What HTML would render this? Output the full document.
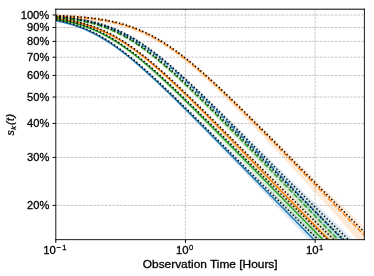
<!DOCTYPE html><html><head><meta charset="utf-8"><style>html,body{margin:0;padding:0;background:#fff}body{width:374px;height:276px;overflow:hidden}</style></head><body><svg width="374" height="276" viewBox="0 0 374 276" style="display:block;font-family:'Liberation Sans',sans-serif;will-change:transform" stroke-linejoin="round"><rect width="374" height="276" fill="#fff"/><defs><clipPath id="c"><rect x="55.80" y="9.30" width="308.60" height="230.35"/></clipPath></defs><g stroke="#b0b0b0" stroke-width="0.71" stroke-dasharray="2.63 1.14" fill="none"><path d="M55.80 15.00H364.40"/><path d="M55.80 27.46H364.40"/><path d="M55.80 41.40H364.40"/><path d="M55.80 57.19H364.40"/><path d="M55.80 75.43H364.40"/><path d="M55.80 97.00H364.40"/><path d="M55.80 123.40H364.40"/><path d="M55.80 157.43H364.40"/><path d="M55.80 205.40H364.40"/><path d="M185.45 9.30V239.65"/><path d="M315.10 9.30V239.65"/></g><g clip-path="url(#c)"><path d="M55.80 19.19 L57.34 19.49 L58.89 19.80 L60.43 20.14 L61.97 20.48 L63.52 20.85 L65.06 21.23 L66.60 21.63 L68.14 22.04 L69.69 22.47 L71.23 22.93 L72.77 23.40 L74.32 23.89 L75.86 24.40 L77.40 24.93 L78.94 25.48 L80.49 26.05 L82.03 26.65 L83.57 27.26 L85.12 27.90 L86.66 28.56 L88.20 29.25 L89.75 29.95 L91.29 30.68 L92.83 31.43 L94.38 32.21 L95.92 33.00 L97.46 33.82 L99.00 34.67 L100.55 35.53 L102.09 36.42 L103.63 37.33 L105.18 38.26 L106.72 39.22 L108.26 40.19 L109.80 41.19 L111.35 42.21 L112.89 43.24 L114.43 44.30 L115.98 45.38 L117.52 46.48 L119.06 47.59 L120.61 48.73 L122.15 49.88 L123.69 51.05 L125.23 52.23 L126.78 53.44 L128.32 54.65 L129.86 55.89 L131.41 57.13 L132.95 58.40 L134.49 59.67 L136.04 60.96 L137.58 62.26 L139.12 63.57 L140.66 64.90 L142.21 66.23 L143.75 67.58 L145.29 68.93 L146.84 70.30 L148.38 71.67 L149.92 73.06 L151.47 74.45 L153.01 75.85 L154.55 77.26 L156.09 78.67 L157.64 80.09 L159.18 81.52 L160.72 82.96 L162.27 84.40 L163.81 85.84 L165.35 87.29 L166.90 88.75 L168.44 90.21 L169.98 91.67 L171.52 93.14 L173.07 94.62 L174.61 96.09 L176.15 97.57 L177.70 99.06 L179.24 100.54 L180.78 102.03 L182.33 103.52 L183.87 105.02 L185.41 106.51 L186.95 108.01 L188.50 109.51 L190.04 111.02 L191.58 112.52 L193.13 114.03 L194.67 115.53 L196.21 117.04 L197.76 118.55 L199.30 120.06 L200.84 121.58 L202.38 123.09 L203.93 124.61 L205.47 126.12 L207.01 127.64 L208.56 129.15 L210.10 130.67 L211.64 132.19 L213.19 133.71 L214.73 135.22 L216.27 136.74 L217.81 138.26 L219.36 139.78 L220.90 141.30 L222.44 142.82 L223.99 144.34 L225.53 145.86 L227.07 147.38 L228.62 148.90 L230.16 150.42 L231.70 151.94 L233.25 153.46 L234.79 154.98 L236.33 156.50 L237.87 158.01 L239.42 159.53 L240.96 161.05 L242.50 162.57 L244.05 164.08 L245.59 165.60 L247.13 167.12 L248.68 168.63 L250.22 170.15 L251.76 171.66 L253.30 173.18 L254.85 174.69 L256.39 176.20 L257.93 177.71 L259.48 179.23 L261.02 180.74 L262.56 182.25 L264.10 183.76 L265.65 185.27 L267.19 186.77 L268.73 188.28 L270.28 189.79 L271.82 191.29 L273.36 192.80 L274.91 194.30 L276.45 195.81 L277.99 197.31 L279.53 198.81 L281.08 200.31 L282.62 201.81 L284.16 203.31 L285.71 204.81 L287.25 206.31 L288.79 207.80 L290.34 209.30 L291.88 210.79 L293.42 212.28 L294.96 213.78 L296.51 215.27 L298.05 216.76 L299.59 218.25 L301.14 219.73 L302.68 221.22 L304.22 222.71 L305.77 224.19 L307.31 225.68 L308.85 227.16 L310.39 228.64 L311.94 230.12 L313.48 231.60 L315.02 233.08 L316.57 234.55 L318.11 236.03 L319.65 237.50 L321.20 238.97 L322.74 240.44 L324.28 241.91 L325.82 243.38 L327.37 244.85 L328.91 246.32 L330.45 247.78 L332.00 249.24 L333.54 250.71 L335.08 252.17 L336.63 253.63 L338.17 255.08 L339.71 256.54 L341.25 257.99 L342.80 259.45 L344.34 260.90 L345.88 262.35 L347.43 263.80 L348.97 265.24 L350.51 266.69 L352.06 268.13 L353.60 269.57 L355.14 271.01 L356.69 272.45 L358.23 273.89 L359.77 275.33 L361.31 276.76 L362.86 278.19 L364.40 279.62 L364.40 300.83 L362.86 299.12 L361.31 297.42 L359.77 295.71 L358.23 294.01 L356.69 292.31 L355.14 290.61 L353.60 288.91 L352.06 287.22 L350.51 285.52 L348.97 283.83 L347.43 282.14 L345.88 280.45 L344.34 278.77 L342.80 277.08 L341.25 275.40 L339.71 273.72 L338.17 272.04 L336.63 270.36 L335.08 268.68 L333.54 267.00 L332.00 265.33 L330.45 263.65 L328.91 261.98 L327.37 260.31 L325.82 258.64 L324.28 256.97 L322.74 255.31 L321.20 253.64 L319.65 251.98 L318.11 250.31 L316.57 248.65 L315.02 246.99 L313.48 245.33 L311.94 243.67 L310.39 242.02 L308.85 240.36 L307.31 238.71 L305.77 237.05 L304.22 235.40 L302.68 233.75 L301.14 232.10 L299.59 230.45 L298.05 228.80 L296.51 227.15 L294.96 225.51 L293.42 223.86 L291.88 222.22 L290.34 220.58 L288.79 218.93 L287.25 217.29 L285.71 215.65 L284.16 214.01 L282.62 212.38 L281.08 210.74 L279.53 209.10 L277.99 207.47 L276.45 205.83 L274.91 204.20 L273.36 202.57 L271.82 200.94 L270.28 199.30 L268.73 197.68 L267.19 196.05 L265.65 194.42 L264.10 192.79 L262.56 191.16 L261.02 189.54 L259.48 187.91 L257.93 186.29 L256.39 184.67 L254.85 183.05 L253.30 181.42 L251.76 179.80 L250.22 178.19 L248.68 176.57 L247.13 174.95 L245.59 173.33 L244.05 171.72 L242.50 170.10 L240.96 168.49 L239.42 166.88 L237.87 165.26 L236.33 163.65 L234.79 162.04 L233.25 160.43 L231.70 158.83 L230.16 157.22 L228.62 155.61 L227.07 154.01 L225.53 152.40 L223.99 150.80 L222.44 149.20 L220.90 147.60 L219.36 146.00 L217.81 144.40 L216.27 142.81 L214.73 141.21 L213.19 139.62 L211.64 138.03 L210.10 136.44 L208.56 134.85 L207.01 133.26 L205.47 131.67 L203.93 130.09 L202.38 128.51 L200.84 126.93 L199.30 125.35 L197.76 123.77 L196.21 122.20 L194.67 120.63 L193.13 119.06 L191.58 117.49 L190.04 115.92 L188.50 114.36 L186.95 112.80 L185.41 111.25 L183.87 109.69 L182.33 108.14 L180.78 106.60 L179.24 105.05 L177.70 103.51 L176.15 101.98 L174.61 100.45 L173.07 98.92 L171.52 97.40 L169.98 95.88 L168.44 94.37 L166.90 92.86 L165.35 91.36 L163.81 89.86 L162.27 88.37 L160.72 86.88 L159.18 85.41 L157.64 83.94 L156.09 82.47 L154.55 81.02 L153.01 79.57 L151.47 78.13 L149.92 76.70 L148.38 75.28 L146.84 73.86 L145.29 72.46 L143.75 71.07 L142.21 69.69 L140.66 68.32 L139.12 66.96 L137.58 65.61 L136.04 64.28 L134.49 62.96 L132.95 61.66 L131.41 60.36 L129.86 59.09 L128.32 57.83 L126.78 56.58 L125.23 55.35 L123.69 54.14 L122.15 52.94 L120.61 51.77 L119.06 50.61 L117.52 49.47 L115.98 48.35 L114.43 47.25 L112.89 46.17 L111.35 45.11 L109.80 44.07 L108.26 43.05 L106.72 42.06 L105.18 41.08 L103.63 40.13 L102.09 39.20 L100.55 38.30 L99.00 37.42 L97.46 36.56 L95.92 35.72 L94.38 34.91 L92.83 34.12 L91.29 33.36 L89.75 32.62 L88.20 31.90 L86.66 31.20 L85.12 30.53 L83.57 29.88 L82.03 29.25 L80.49 28.65 L78.94 28.07 L77.40 27.50 L75.86 26.96 L74.32 26.45 L72.77 25.95 L71.23 25.47 L69.69 25.01 L68.14 24.57 L66.60 24.14 L65.06 23.74 L63.52 23.35 L61.97 22.98 L60.43 22.63 L58.89 22.29 L57.34 21.97 L55.80 21.67Z" fill="#1f77b4" fill-opacity="0.165" stroke="none"/><path d="M55.80 15.36 L57.34 15.48 L58.89 15.60 L60.43 15.73 L61.97 15.87 L63.52 16.02 L65.06 16.17 L66.60 16.33 L68.14 16.50 L69.69 16.68 L71.23 16.87 L72.77 17.06 L74.32 17.27 L75.86 17.49 L77.40 17.72 L78.94 17.96 L80.49 18.21 L82.03 18.47 L83.57 18.75 L85.12 19.04 L86.66 19.34 L88.20 19.66 L89.75 19.99 L91.29 20.34 L92.83 20.70 L94.38 21.08 L95.92 21.47 L97.46 21.89 L99.00 22.32 L100.55 22.76 L102.09 23.23 L103.63 23.71 L105.18 24.22 L106.72 24.74 L108.26 25.29 L109.80 25.85 L111.35 26.43 L112.89 27.04 L114.43 27.67 L115.98 28.31 L117.52 28.98 L119.06 29.68 L120.61 30.39 L122.15 31.13 L123.69 31.88 L125.23 32.66 L126.78 33.47 L128.32 34.29 L129.86 35.14 L131.41 36.00 L132.95 36.89 L134.49 37.81 L136.04 38.74 L137.58 39.69 L139.12 40.67 L140.66 41.66 L142.21 42.68 L143.75 43.72 L145.29 44.77 L146.84 45.85 L148.38 46.94 L149.92 48.05 L151.47 49.18 L153.01 50.33 L154.55 51.49 L156.09 52.67 L157.64 53.87 L159.18 55.08 L160.72 56.31 L162.27 57.55 L163.81 58.80 L165.35 60.07 L166.90 61.35 L168.44 62.65 L169.98 63.95 L171.52 65.27 L173.07 66.60 L174.61 67.94 L176.15 69.29 L177.70 70.65 L179.24 72.02 L180.78 73.39 L182.33 74.78 L183.87 76.17 L185.41 77.57 L186.95 78.98 L188.50 80.40 L190.04 81.82 L191.58 83.25 L193.13 84.69 L194.67 86.13 L196.21 87.57 L197.76 89.02 L199.30 90.48 L200.84 91.94 L202.38 93.40 L203.93 94.87 L205.47 96.34 L207.01 97.82 L208.56 99.30 L210.10 100.78 L211.64 102.26 L213.19 103.75 L214.73 105.24 L216.27 106.73 L217.81 108.23 L219.36 109.73 L220.90 111.23 L222.44 112.73 L223.99 114.23 L225.53 115.73 L227.07 117.24 L228.62 118.74 L230.16 120.25 L231.70 121.76 L233.25 123.27 L234.79 124.78 L236.33 126.29 L237.87 127.81 L239.42 129.32 L240.96 130.83 L242.50 132.35 L244.05 133.86 L245.59 135.37 L247.13 136.89 L248.68 138.40 L250.22 139.92 L251.76 141.43 L253.30 142.95 L254.85 144.46 L256.39 145.98 L257.93 147.49 L259.48 149.01 L261.02 150.52 L262.56 152.03 L264.10 153.55 L265.65 155.06 L267.19 156.57 L268.73 158.09 L270.28 159.60 L271.82 161.11 L273.36 162.62 L274.91 164.13 L276.45 165.64 L277.99 167.15 L279.53 168.65 L281.08 170.16 L282.62 171.67 L284.16 173.17 L285.71 174.68 L287.25 176.18 L288.79 177.69 L290.34 179.19 L291.88 180.69 L293.42 182.19 L294.96 183.69 L296.51 185.19 L298.05 186.68 L299.59 188.18 L301.14 189.68 L302.68 191.17 L304.22 192.66 L305.77 194.16 L307.31 195.65 L308.85 197.14 L310.39 198.62 L311.94 200.11 L313.48 201.60 L315.02 203.08 L316.57 204.57 L318.11 206.05 L319.65 207.53 L321.20 209.01 L322.74 210.49 L324.28 211.97 L325.82 213.44 L327.37 214.92 L328.91 216.39 L330.45 217.86 L332.00 219.33 L333.54 220.80 L335.08 222.27 L336.63 223.73 L338.17 225.19 L339.71 226.66 L341.25 228.12 L342.80 229.58 L344.34 231.03 L345.88 232.49 L347.43 233.95 L348.97 235.40 L350.51 236.85 L352.06 238.30 L353.60 239.75 L355.14 241.19 L356.69 242.64 L358.23 244.08 L359.77 245.52 L361.31 246.96 L362.86 248.39 L364.40 249.83 L364.40 272.16 L362.86 270.43 L361.31 268.70 L359.77 266.98 L358.23 265.25 L356.69 263.53 L355.14 261.81 L353.60 260.09 L352.06 258.38 L350.51 256.66 L348.97 254.95 L347.43 253.24 L345.88 251.53 L344.34 249.82 L342.80 248.12 L341.25 246.41 L339.71 244.71 L338.17 243.01 L336.63 241.31 L335.08 239.61 L333.54 237.92 L332.00 236.22 L330.45 234.53 L328.91 232.84 L327.37 231.15 L325.82 229.46 L324.28 227.78 L322.74 226.09 L321.20 224.41 L319.65 222.72 L318.11 221.04 L316.57 219.36 L315.02 217.68 L313.48 216.01 L311.94 214.33 L310.39 212.66 L308.85 210.98 L307.31 209.31 L305.77 207.64 L304.22 205.97 L302.68 204.30 L301.14 202.64 L299.59 200.97 L298.05 199.31 L296.51 197.64 L294.96 195.98 L293.42 194.32 L291.88 192.66 L290.34 191.00 L288.79 189.34 L287.25 187.69 L285.71 186.03 L284.16 184.38 L282.62 182.73 L281.08 181.08 L279.53 179.43 L277.99 177.78 L276.45 176.13 L274.91 174.48 L273.36 172.84 L271.82 171.19 L270.28 169.55 L268.73 167.91 L267.19 166.27 L265.65 164.63 L264.10 162.99 L262.56 161.36 L261.02 159.72 L259.48 158.09 L257.93 156.46 L256.39 154.83 L254.85 153.20 L253.30 151.57 L251.76 149.94 L250.22 148.32 L248.68 146.70 L247.13 145.07 L245.59 143.45 L244.05 141.84 L242.50 140.22 L240.96 138.60 L239.42 136.99 L237.87 135.38 L236.33 133.77 L234.79 132.16 L233.25 130.56 L231.70 128.96 L230.16 127.36 L228.62 125.76 L227.07 124.16 L225.53 122.57 L223.99 120.98 L222.44 119.39 L220.90 117.81 L219.36 116.23 L217.81 114.65 L216.27 113.08 L214.73 111.50 L213.19 109.94 L211.64 108.37 L210.10 106.81 L208.56 105.26 L207.01 103.71 L205.47 102.16 L203.93 100.62 L202.38 99.08 L200.84 97.55 L199.30 96.02 L197.76 94.50 L196.21 92.98 L194.67 91.47 L193.13 89.97 L191.58 88.47 L190.04 86.98 L188.50 85.50 L186.95 84.03 L185.41 82.56 L183.87 81.10 L182.33 79.65 L180.78 78.21 L179.24 76.78 L177.70 75.36 L176.15 73.95 L174.61 72.55 L173.07 71.16 L171.52 69.79 L169.98 68.42 L168.44 67.07 L166.90 65.73 L165.35 64.40 L163.81 63.09 L162.27 61.80 L160.72 60.51 L159.18 59.25 L157.64 57.99 L156.09 56.76 L154.55 55.54 L153.01 54.34 L151.47 53.16 L149.92 51.99 L148.38 50.85 L146.84 49.72 L145.29 48.62 L143.75 47.53 L142.21 46.46 L140.66 45.42 L139.12 44.39 L137.58 43.39 L136.04 42.41 L134.49 41.45 L132.95 40.51 L131.41 39.60 L129.86 38.71 L128.32 37.84 L126.78 36.99 L125.23 36.17 L123.69 35.37 L122.15 34.59 L120.61 33.83 L119.06 33.10 L117.52 32.39 L115.98 31.71 L114.43 31.04 L112.89 30.40 L111.35 29.78 L109.80 29.18 L108.26 28.60 L106.72 28.04 L105.18 27.51 L103.63 26.99 L102.09 26.49 L100.55 26.02 L99.00 25.56 L97.46 25.12 L95.92 24.70 L94.38 24.29 L92.83 23.90 L91.29 23.53 L89.75 23.18 L88.20 22.84 L86.66 22.51 L85.12 22.20 L83.57 21.91 L82.03 21.62 L80.49 21.35 L78.94 21.10 L77.40 20.85 L75.86 20.62 L74.32 20.40 L72.77 20.18 L71.23 19.98 L69.69 19.79 L68.14 19.61 L66.60 19.43 L65.06 19.27 L63.52 19.11 L61.97 18.96 L60.43 18.82 L58.89 18.69 L57.34 18.56 L55.80 18.44Z" fill="#1f77b4" fill-opacity="0.165" stroke="none"/><path d="M55.80 17.22 L57.34 17.41 L58.89 17.62 L60.43 17.83 L61.97 18.06 L63.52 18.30 L65.06 18.55 L66.60 18.81 L68.14 19.08 L69.69 19.37 L71.23 19.67 L72.77 19.98 L74.32 20.31 L75.86 20.65 L77.40 21.01 L78.94 21.39 L80.49 21.78 L82.03 22.19 L83.57 22.61 L85.12 23.05 L86.66 23.52 L88.20 24.00 L89.75 24.50 L91.29 25.01 L92.83 25.55 L94.38 26.11 L95.92 26.69 L97.46 27.29 L99.00 27.91 L100.55 28.55 L102.09 29.21 L103.63 29.90 L105.18 30.61 L106.72 31.34 L108.26 32.09 L109.80 32.86 L111.35 33.66 L112.89 34.47 L114.43 35.31 L115.98 36.17 L117.52 37.06 L119.06 37.96 L120.61 38.89 L122.15 39.83 L123.69 40.80 L125.23 41.79 L126.78 42.80 L128.32 43.83 L129.86 44.88 L131.41 45.95 L132.95 47.03 L134.49 48.14 L136.04 49.26 L137.58 50.40 L139.12 51.56 L140.66 52.74 L142.21 53.93 L143.75 55.13 L145.29 56.35 L146.84 57.59 L148.38 58.84 L149.92 60.10 L151.47 61.38 L153.01 62.67 L154.55 63.97 L156.09 65.29 L157.64 66.61 L159.18 67.95 L160.72 69.29 L162.27 70.65 L163.81 72.01 L165.35 73.39 L166.90 74.77 L168.44 76.16 L169.98 77.56 L171.52 78.97 L173.07 80.38 L174.61 81.81 L176.15 83.23 L177.70 84.67 L179.24 86.11 L180.78 87.55 L182.33 89.00 L183.87 90.46 L185.41 91.92 L186.95 93.38 L188.50 94.85 L190.04 96.33 L191.58 97.80 L193.13 99.28 L194.67 100.77 L196.21 102.25 L197.76 103.74 L199.30 105.24 L200.84 106.73 L202.38 108.23 L203.93 109.73 L205.47 111.23 L207.01 112.74 L208.56 114.24 L210.10 115.75 L211.64 117.26 L213.19 118.77 L214.73 120.28 L216.27 121.80 L217.81 123.31 L219.36 124.83 L220.90 126.35 L222.44 127.86 L223.99 129.38 L225.53 130.90 L227.07 132.42 L228.62 133.94 L230.16 135.46 L231.70 136.98 L233.25 138.51 L234.79 140.03 L236.33 141.55 L237.87 143.07 L239.42 144.60 L240.96 146.12 L242.50 147.64 L244.05 149.17 L245.59 150.69 L247.13 152.21 L248.68 153.74 L250.22 155.26 L251.76 156.78 L253.30 158.31 L254.85 159.83 L256.39 161.35 L257.93 162.87 L259.48 164.39 L261.02 165.91 L262.56 167.43 L264.10 168.95 L265.65 170.47 L267.19 171.99 L268.73 173.51 L270.28 175.03 L271.82 176.55 L273.36 178.07 L274.91 179.58 L276.45 181.10 L277.99 182.61 L279.53 184.13 L281.08 185.64 L282.62 187.15 L284.16 188.67 L285.71 190.18 L287.25 191.69 L288.79 193.20 L290.34 194.71 L291.88 196.22 L293.42 197.72 L294.96 199.23 L296.51 200.74 L298.05 202.24 L299.59 203.75 L301.14 205.25 L302.68 206.75 L304.22 208.25 L305.77 209.75 L307.31 211.25 L308.85 212.75 L310.39 214.25 L311.94 215.75 L313.48 217.24 L315.02 218.74 L316.57 220.23 L318.11 221.72 L319.65 223.21 L321.20 224.70 L322.74 226.19 L324.28 227.68 L325.82 229.16 L327.37 230.65 L328.91 232.13 L330.45 233.62 L332.00 235.10 L333.54 236.58 L335.08 238.06 L336.63 239.53 L338.17 241.01 L339.71 242.49 L341.25 243.96 L342.80 245.43 L344.34 246.90 L345.88 248.37 L347.43 249.84 L348.97 251.31 L350.51 252.77 L352.06 254.24 L353.60 255.70 L355.14 257.16 L356.69 258.62 L358.23 260.08 L359.77 261.53 L361.31 262.99 L362.86 264.44 L364.40 265.89 L364.40 287.51 L362.86 285.78 L361.31 284.04 L359.77 282.30 L358.23 280.57 L356.69 278.84 L355.14 277.11 L353.60 275.38 L352.06 273.66 L350.51 271.94 L348.97 270.22 L347.43 268.50 L345.88 266.78 L344.34 265.07 L342.80 263.36 L341.25 261.65 L339.71 259.94 L338.17 258.23 L336.63 256.53 L335.08 254.82 L333.54 253.12 L332.00 251.42 L330.45 249.73 L328.91 248.03 L327.37 246.33 L325.82 244.64 L324.28 242.95 L322.74 241.26 L321.20 239.57 L319.65 237.89 L318.11 236.20 L316.57 234.52 L315.02 232.84 L313.48 231.16 L311.94 229.48 L310.39 227.80 L308.85 226.12 L307.31 224.45 L305.77 222.77 L304.22 221.10 L302.68 219.43 L301.14 217.76 L299.59 216.09 L298.05 214.43 L296.51 212.76 L294.96 211.10 L293.42 209.43 L291.88 207.77 L290.34 206.11 L288.79 204.45 L287.25 202.79 L285.71 201.14 L284.16 199.48 L282.62 197.83 L281.08 196.18 L279.53 194.52 L277.99 192.87 L276.45 191.22 L274.91 189.58 L273.36 187.93 L271.82 186.28 L270.28 184.64 L268.73 182.99 L267.19 181.35 L265.65 179.71 L264.10 178.07 L262.56 176.43 L261.02 174.79 L259.48 173.16 L257.93 171.52 L256.39 169.89 L254.85 168.26 L253.30 166.62 L251.76 164.99 L250.22 163.36 L248.68 161.74 L247.13 160.11 L245.59 158.49 L244.05 156.86 L242.50 155.24 L240.96 153.62 L239.42 152.00 L237.87 150.38 L236.33 148.77 L234.79 147.15 L233.25 145.54 L231.70 143.93 L230.16 142.32 L228.62 140.71 L227.07 139.10 L225.53 137.50 L223.99 135.89 L222.44 134.29 L220.90 132.69 L219.36 131.10 L217.81 129.50 L216.27 127.91 L214.73 126.32 L213.19 124.73 L211.64 123.15 L210.10 121.56 L208.56 119.98 L207.01 118.41 L205.47 116.83 L203.93 115.26 L202.38 113.69 L200.84 112.13 L199.30 110.57 L197.76 109.01 L196.21 107.46 L194.67 105.91 L193.13 104.36 L191.58 102.82 L190.04 101.28 L188.50 99.75 L186.95 98.23 L185.41 96.70 L183.87 95.19 L182.33 93.68 L180.78 92.17 L179.24 90.67 L177.70 89.18 L176.15 87.70 L174.61 86.22 L173.07 84.75 L171.52 83.28 L169.98 81.83 L168.44 80.38 L166.90 78.95 L165.35 77.52 L163.81 76.10 L162.27 74.69 L160.72 73.29 L159.18 71.90 L157.64 70.53 L156.09 69.16 L154.55 67.81 L153.01 66.47 L151.47 65.14 L149.92 63.83 L148.38 62.53 L146.84 61.24 L145.29 59.97 L143.75 58.72 L142.21 57.48 L140.66 56.26 L139.12 55.05 L137.58 53.86 L136.04 52.69 L134.49 51.54 L132.95 50.41 L131.41 49.30 L129.86 48.20 L128.32 47.13 L126.78 46.07 L125.23 45.04 L123.69 44.03 L122.15 43.04 L120.61 42.07 L119.06 41.12 L117.52 40.19 L115.98 39.29 L114.43 38.41 L112.89 37.55 L111.35 36.72 L109.80 35.90 L108.26 35.11 L106.72 34.35 L105.18 33.60 L103.63 32.88 L102.09 32.18 L100.55 31.50 L99.00 30.85 L97.46 30.21 L95.92 29.60 L94.38 29.01 L92.83 28.44 L91.29 27.89 L89.75 27.36 L88.20 26.85 L86.66 26.36 L85.12 25.89 L83.57 25.44 L82.03 25.01 L80.49 24.59 L78.94 24.19 L77.40 23.81 L75.86 23.45 L74.32 23.10 L72.77 22.76 L71.23 22.44 L69.69 22.13 L68.14 21.84 L66.60 21.56 L65.06 21.30 L63.52 21.04 L61.97 20.80 L60.43 20.57 L58.89 20.35 L57.34 20.14 L55.80 19.94Z" fill="#ff7f0e" fill-opacity="0.165" stroke="none"/><path d="M55.80 14.04 L57.34 14.10 L58.89 14.16 L60.43 14.23 L61.97 14.30 L63.52 14.37 L65.06 14.45 L66.60 14.53 L68.14 14.62 L69.69 14.71 L71.23 14.80 L72.77 14.90 L74.32 15.01 L75.86 15.12 L77.40 15.23 L78.94 15.35 L80.49 15.48 L82.03 15.62 L83.57 15.76 L85.12 15.90 L86.66 16.06 L88.20 16.22 L89.75 16.39 L91.29 16.57 L92.83 16.76 L94.38 16.96 L95.92 17.16 L97.46 17.38 L99.00 17.60 L100.55 17.84 L102.09 18.09 L103.63 18.34 L105.18 18.61 L106.72 18.90 L108.26 19.19 L109.80 19.50 L111.35 19.82 L112.89 20.15 L114.43 20.50 L115.98 20.87 L117.52 21.25 L119.06 21.64 L120.61 22.05 L122.15 22.48 L123.69 22.92 L125.23 23.38 L126.78 23.86 L128.32 24.35 L129.86 24.87 L131.41 25.40 L132.95 25.95 L134.49 26.52 L136.04 27.11 L137.58 27.72 L139.12 28.35 L140.66 29.00 L142.21 29.67 L143.75 30.36 L145.29 31.08 L146.84 31.81 L148.38 32.56 L149.92 33.33 L151.47 34.13 L153.01 34.94 L154.55 35.78 L156.09 36.64 L157.64 37.52 L159.18 38.41 L160.72 39.33 L162.27 40.27 L163.81 41.23 L165.35 42.21 L166.90 43.20 L168.44 44.22 L169.98 45.26 L171.52 46.31 L173.07 47.38 L174.61 48.47 L176.15 49.58 L177.70 50.70 L179.24 51.84 L180.78 53.00 L182.33 54.17 L183.87 55.36 L185.41 56.56 L186.95 57.78 L188.50 59.01 L190.04 60.26 L191.58 61.51 L193.13 62.78 L194.67 64.07 L196.21 65.36 L197.76 66.67 L199.30 67.99 L200.84 69.31 L202.38 70.65 L203.93 72.00 L205.47 73.36 L207.01 74.72 L208.56 76.10 L210.10 77.48 L211.64 78.87 L213.19 80.27 L214.73 81.68 L216.27 83.09 L217.81 84.51 L219.36 85.94 L220.90 87.37 L222.44 88.81 L223.99 90.25 L225.53 91.70 L227.07 93.15 L228.62 94.61 L230.16 96.07 L231.70 97.54 L233.25 99.01 L234.79 100.48 L236.33 101.96 L237.87 103.44 L239.42 104.93 L240.96 106.41 L242.50 107.90 L244.05 109.40 L245.59 110.89 L247.13 112.39 L248.68 113.89 L250.22 115.39 L251.76 116.89 L253.30 118.40 L254.85 119.91 L256.39 121.41 L257.93 122.92 L259.48 124.44 L261.02 125.95 L262.56 127.46 L264.10 128.98 L265.65 130.49 L267.19 132.01 L268.73 133.53 L270.28 135.04 L271.82 136.56 L273.36 138.08 L274.91 139.60 L276.45 141.12 L277.99 142.64 L279.53 144.16 L281.08 145.68 L282.62 147.20 L284.16 148.72 L285.71 150.24 L287.25 151.77 L288.79 153.29 L290.34 154.81 L291.88 156.33 L293.42 157.85 L294.96 159.37 L296.51 160.89 L298.05 162.41 L299.59 163.93 L301.14 165.45 L302.68 166.97 L304.22 168.49 L305.77 170.00 L307.31 171.52 L308.85 173.04 L310.39 174.55 L311.94 176.07 L313.48 177.58 L315.02 179.10 L316.57 180.61 L318.11 182.13 L319.65 183.64 L321.20 185.15 L322.74 186.66 L324.28 188.17 L325.82 189.68 L327.37 191.19 L328.91 192.70 L330.45 194.20 L332.00 195.71 L333.54 197.21 L335.08 198.72 L336.63 200.22 L338.17 201.72 L339.71 203.23 L341.25 204.73 L342.80 206.23 L344.34 207.72 L345.88 209.22 L347.43 210.72 L348.97 212.21 L350.51 213.71 L352.06 215.20 L353.60 216.69 L355.14 218.18 L356.69 219.67 L358.23 221.16 L359.77 222.64 L361.31 224.13 L362.86 225.61 L364.40 227.10 L364.40 247.43 L362.86 245.68 L361.31 243.93 L359.77 242.18 L358.23 240.43 L356.69 238.69 L355.14 236.95 L353.60 235.21 L352.06 233.48 L350.51 231.75 L348.97 230.01 L347.43 228.29 L345.88 226.56 L344.34 224.83 L342.80 223.11 L341.25 221.39 L339.71 219.67 L338.17 217.96 L336.63 216.25 L335.08 214.53 L333.54 212.82 L332.00 211.12 L330.45 209.41 L328.91 207.71 L327.37 206.01 L325.82 204.31 L324.28 202.61 L322.74 200.91 L321.20 199.22 L319.65 197.52 L318.11 195.83 L316.57 194.15 L315.02 192.46 L313.48 190.77 L311.94 189.09 L310.39 187.41 L308.85 185.73 L307.31 184.05 L305.77 182.38 L304.22 180.70 L302.68 179.03 L301.14 177.36 L299.59 175.69 L298.05 174.03 L296.51 172.36 L294.96 170.70 L293.42 169.04 L291.88 167.38 L290.34 165.72 L288.79 164.06 L287.25 162.41 L285.71 160.76 L284.16 159.11 L282.62 157.46 L281.08 155.81 L279.53 154.17 L277.99 152.53 L276.45 150.89 L274.91 149.25 L273.36 147.62 L271.82 145.98 L270.28 144.35 L268.73 142.72 L267.19 141.10 L265.65 139.48 L264.10 137.85 L262.56 136.24 L261.02 134.62 L259.48 133.01 L257.93 131.40 L256.39 129.79 L254.85 128.18 L253.30 126.58 L251.76 124.99 L250.22 123.39 L248.68 121.80 L247.13 120.21 L245.59 118.63 L244.05 117.05 L242.50 115.47 L240.96 113.90 L239.42 112.33 L237.87 110.76 L236.33 109.20 L234.79 107.65 L233.25 106.10 L231.70 104.56 L230.16 103.02 L228.62 101.48 L227.07 99.95 L225.53 98.43 L223.99 96.91 L222.44 95.40 L220.90 93.90 L219.36 92.41 L217.81 90.92 L216.27 89.43 L214.73 87.96 L213.19 86.50 L211.64 85.04 L210.10 83.59 L208.56 82.15 L207.01 80.72 L205.47 79.30 L203.93 77.89 L202.38 76.49 L200.84 75.10 L199.30 73.73 L197.76 72.36 L196.21 71.01 L194.67 69.67 L193.13 68.34 L191.58 67.02 L190.04 65.72 L188.50 64.44 L186.95 63.16 L185.41 61.91 L183.87 60.66 L182.33 59.44 L180.78 58.23 L179.24 57.04 L177.70 55.86 L176.15 54.70 L174.61 53.56 L173.07 52.44 L171.52 51.34 L169.98 50.25 L168.44 49.19 L166.90 48.14 L165.35 47.12 L163.81 46.11 L162.27 45.13 L160.72 44.17 L159.18 43.22 L157.64 42.30 L156.09 41.40 L154.55 40.52 L153.01 39.67 L151.47 38.83 L149.92 38.01 L148.38 37.22 L146.84 36.45 L145.29 35.70 L143.75 34.97 L142.21 34.26 L140.66 33.58 L139.12 32.91 L137.58 32.27 L136.04 31.64 L134.49 31.04 L132.95 30.46 L131.41 29.89 L129.86 29.35 L128.32 28.82 L126.78 28.32 L125.23 27.83 L123.69 27.36 L122.15 26.90 L120.61 26.47 L119.06 26.05 L117.52 25.64 L115.98 25.26 L114.43 24.89 L112.89 24.53 L111.35 24.19 L109.80 23.86 L108.26 23.55 L106.72 23.24 L105.18 22.96 L103.63 22.68 L102.09 22.42 L100.55 22.17 L99.00 21.92 L97.46 21.69 L95.92 21.47 L94.38 21.26 L92.83 21.06 L91.29 20.87 L89.75 20.69 L88.20 20.51 L86.66 20.35 L85.12 20.19 L83.57 20.04 L82.03 19.90 L80.49 19.76 L78.94 19.63 L77.40 19.50 L75.86 19.39 L74.32 19.27 L72.77 19.17 L71.23 19.06 L69.69 18.97 L68.14 18.88 L66.60 18.79 L65.06 18.70 L63.52 18.63 L61.97 18.55 L60.43 18.48 L58.89 18.41 L57.34 18.35 L55.80 18.28Z" fill="#ff7f0e" fill-opacity="0.165" stroke="none"/><path d="M55.80 17.97 L57.34 18.21 L58.89 18.46 L60.43 18.72 L61.97 19.00 L63.52 19.28 L65.06 19.58 L66.60 19.90 L68.14 20.23 L69.69 20.57 L71.23 20.93 L72.77 21.31 L74.32 21.71 L75.86 22.12 L77.40 22.55 L78.94 22.99 L80.49 23.46 L82.03 23.94 L83.57 24.45 L85.12 24.97 L86.66 25.51 L88.20 26.08 L89.75 26.66 L91.29 27.27 L92.83 27.90 L94.38 28.55 L95.92 29.22 L97.46 29.91 L99.00 30.63 L100.55 31.37 L102.09 32.13 L103.63 32.91 L105.18 33.72 L106.72 34.54 L108.26 35.39 L109.80 36.27 L111.35 37.16 L112.89 38.08 L114.43 39.01 L115.98 39.97 L117.52 40.95 L119.06 41.95 L120.61 42.97 L122.15 44.01 L123.69 45.07 L125.23 46.15 L126.78 47.25 L128.32 48.36 L129.86 49.49 L131.41 50.64 L132.95 51.81 L134.49 53.00 L136.04 54.20 L137.58 55.41 L139.12 56.64 L140.66 57.88 L142.21 59.14 L143.75 60.41 L145.29 61.70 L146.84 62.99 L148.38 64.30 L149.92 65.62 L151.47 66.95 L153.01 68.29 L154.55 69.64 L156.09 71.00 L157.64 72.37 L159.18 73.75 L160.72 75.13 L162.27 76.53 L163.81 77.93 L165.35 79.34 L166.90 80.75 L168.44 82.18 L169.98 83.60 L171.52 85.04 L173.07 86.48 L174.61 87.92 L176.15 89.37 L177.70 90.83 L179.24 92.28 L180.78 93.75 L182.33 95.21 L183.87 96.68 L185.41 98.16 L186.95 99.64 L188.50 101.12 L190.04 102.60 L191.58 104.08 L193.13 105.57 L194.67 107.06 L196.21 108.56 L197.76 110.05 L199.30 111.55 L200.84 113.05 L202.38 114.55 L203.93 116.05 L205.47 117.56 L207.01 119.06 L208.56 120.57 L210.10 122.07 L211.64 123.58 L213.19 125.09 L214.73 126.60 L216.27 128.11 L217.81 129.63 L219.36 131.14 L220.90 132.65 L222.44 134.16 L223.99 135.68 L225.53 137.19 L227.07 138.71 L228.62 140.22 L230.16 141.74 L231.70 143.25 L233.25 144.77 L234.79 146.28 L236.33 147.80 L237.87 149.31 L239.42 150.83 L240.96 152.34 L242.50 153.86 L244.05 155.37 L245.59 156.89 L247.13 158.40 L248.68 159.91 L250.22 161.43 L251.76 162.94 L253.30 164.45 L254.85 165.97 L256.39 167.48 L257.93 168.99 L259.48 170.50 L261.02 172.01 L262.56 173.52 L264.10 175.03 L265.65 176.54 L267.19 178.05 L268.73 179.55 L270.28 181.06 L271.82 182.57 L273.36 184.07 L274.91 185.58 L276.45 187.08 L277.99 188.59 L279.53 190.09 L281.08 191.59 L282.62 193.09 L284.16 194.59 L285.71 196.09 L287.25 197.59 L288.79 199.09 L290.34 200.59 L291.88 202.08 L293.42 203.58 L294.96 205.07 L296.51 206.56 L298.05 208.06 L299.59 209.55 L301.14 211.04 L302.68 212.53 L304.22 214.02 L305.77 215.50 L307.31 216.99 L308.85 218.48 L310.39 219.96 L311.94 221.44 L313.48 222.93 L315.02 224.41 L316.57 225.89 L318.11 227.37 L319.65 228.84 L321.20 230.32 L322.74 231.79 L324.28 233.27 L325.82 234.74 L327.37 236.21 L328.91 237.68 L330.45 239.15 L332.00 240.62 L333.54 242.09 L335.08 243.55 L336.63 245.01 L338.17 246.48 L339.71 247.94 L341.25 249.40 L342.80 250.86 L344.34 252.31 L345.88 253.77 L347.43 255.22 L348.97 256.67 L350.51 258.13 L352.06 259.58 L353.60 261.02 L355.14 262.47 L356.69 263.91 L358.23 265.36 L359.77 266.80 L361.31 268.24 L362.86 269.68 L364.40 271.11 L364.40 293.81 L362.86 292.07 L361.31 290.33 L359.77 288.60 L358.23 286.87 L356.69 285.14 L355.14 283.42 L353.60 281.69 L352.06 279.97 L350.51 278.25 L348.97 276.54 L347.43 274.82 L345.88 273.11 L344.34 271.40 L342.80 269.69 L341.25 267.98 L339.71 266.28 L338.17 264.57 L336.63 262.87 L335.08 261.17 L333.54 259.48 L332.00 257.78 L330.45 256.09 L328.91 254.39 L327.37 252.70 L325.82 251.01 L324.28 249.33 L322.74 247.64 L321.20 245.96 L319.65 244.28 L318.11 242.60 L316.57 240.92 L315.02 239.24 L313.48 237.56 L311.94 235.89 L310.39 234.22 L308.85 232.54 L307.31 230.87 L305.77 229.20 L304.22 227.54 L302.68 225.87 L301.14 224.21 L299.59 222.54 L298.05 220.88 L296.51 219.22 L294.96 217.56 L293.42 215.90 L291.88 214.25 L290.34 212.59 L288.79 210.94 L287.25 209.29 L285.71 207.63 L284.16 205.98 L282.62 204.33 L281.08 202.69 L279.53 201.04 L277.99 199.39 L276.45 197.75 L274.91 196.11 L273.36 194.46 L271.82 192.82 L270.28 191.18 L268.73 189.55 L267.19 187.91 L265.65 186.27 L264.10 184.64 L262.56 183.00 L261.02 181.37 L259.48 179.74 L257.93 178.11 L256.39 176.48 L254.85 174.85 L253.30 173.22 L251.76 171.60 L250.22 169.97 L248.68 168.35 L247.13 166.73 L245.59 165.10 L244.05 163.48 L242.50 161.86 L240.96 160.25 L239.42 158.63 L237.87 157.02 L236.33 155.40 L234.79 153.79 L233.25 152.18 L231.70 150.57 L230.16 148.96 L228.62 147.35 L227.07 145.75 L225.53 144.14 L223.99 142.54 L222.44 140.94 L220.90 139.34 L219.36 137.75 L217.81 136.15 L216.27 134.56 L214.73 132.96 L213.19 131.37 L211.64 129.79 L210.10 128.20 L208.56 126.62 L207.01 125.03 L205.47 123.46 L203.93 121.88 L202.38 120.30 L200.84 118.73 L199.30 117.16 L197.76 115.60 L196.21 114.04 L194.67 112.48 L193.13 110.92 L191.58 109.37 L190.04 107.82 L188.50 106.27 L186.95 104.73 L185.41 103.19 L183.87 101.66 L182.33 100.13 L180.78 98.60 L179.24 97.08 L177.70 95.57 L176.15 94.06 L174.61 92.55 L173.07 91.06 L171.52 89.57 L169.98 88.08 L168.44 86.60 L166.90 85.13 L165.35 83.67 L163.81 82.21 L162.27 80.76 L160.72 79.32 L159.18 77.89 L157.64 76.47 L156.09 75.05 L154.55 73.65 L153.01 72.26 L151.47 70.88 L149.92 69.51 L148.38 68.15 L146.84 66.80 L145.29 65.47 L143.75 64.15 L142.21 62.84 L140.66 61.55 L139.12 60.27 L137.58 59.00 L136.04 57.76 L134.49 56.53 L132.95 55.31 L131.41 54.11 L129.86 52.93 L128.32 51.77 L126.78 50.63 L125.23 49.50 L123.69 48.40 L122.15 47.31 L120.61 46.24 L119.06 45.20 L117.52 44.18 L115.98 43.17 L114.43 42.19 L112.89 41.24 L111.35 40.30 L109.80 39.38 L108.26 38.49 L106.72 37.62 L105.18 36.78 L103.63 35.96 L102.09 35.16 L100.55 34.38 L99.00 33.63 L97.46 32.89 L95.92 32.19 L94.38 31.50 L92.83 30.84 L91.29 30.20 L89.75 29.58 L88.20 28.98 L86.66 28.40 L85.12 27.85 L83.57 27.31 L82.03 26.80 L80.49 26.31 L78.94 25.83 L77.40 25.38 L75.86 24.94 L74.32 24.52 L72.77 24.12 L71.23 23.73 L69.69 23.36 L68.14 23.01 L66.60 22.68 L65.06 22.36 L63.52 22.05 L61.97 21.76 L60.43 21.48 L58.89 21.21 L57.34 20.96 L55.80 20.72Z" fill="#2ca02c" fill-opacity="0.165" stroke="none"/><path d="M55.80 15.96 L57.34 16.09 L58.89 16.24 L60.43 16.39 L61.97 16.55 L63.52 16.72 L65.06 16.89 L66.60 17.08 L68.14 17.27 L69.69 17.48 L71.23 17.69 L72.77 17.92 L74.32 18.16 L75.86 18.41 L77.40 18.67 L78.94 18.94 L80.49 19.23 L82.03 19.53 L83.57 19.85 L85.12 20.18 L86.66 20.52 L88.20 20.88 L89.75 21.26 L91.29 21.65 L92.83 22.06 L94.38 22.49 L95.92 22.93 L97.46 23.40 L99.00 23.88 L100.55 24.38 L102.09 24.91 L103.63 25.45 L105.18 26.01 L106.72 26.59 L108.26 27.20 L109.80 27.82 L111.35 28.47 L112.89 29.14 L114.43 29.83 L115.98 30.54 L117.52 31.28 L119.06 32.04 L120.61 32.82 L122.15 33.62 L123.69 34.44 L125.23 35.29 L126.78 36.16 L128.32 37.05 L129.86 37.96 L131.41 38.90 L132.95 39.86 L134.49 40.83 L136.04 41.83 L137.58 42.85 L139.12 43.89 L140.66 44.95 L142.21 46.03 L143.75 47.12 L145.29 48.24 L146.84 49.37 L148.38 50.52 L149.92 51.69 L151.47 52.87 L153.01 54.08 L154.55 55.29 L156.09 56.52 L157.64 57.77 L159.18 59.03 L160.72 60.30 L162.27 61.59 L163.81 62.89 L165.35 64.20 L166.90 65.53 L168.44 66.86 L169.98 68.21 L171.52 69.56 L173.07 70.93 L174.61 72.30 L176.15 73.69 L177.70 75.08 L179.24 76.48 L180.78 77.89 L182.33 79.31 L183.87 80.73 L185.41 82.16 L186.95 83.60 L188.50 85.04 L190.04 86.49 L191.58 87.94 L193.13 89.40 L194.67 90.86 L196.21 92.33 L197.76 93.80 L199.30 95.28 L200.84 96.76 L202.38 98.25 L203.93 99.73 L205.47 101.23 L207.01 102.72 L208.56 104.22 L210.10 105.72 L211.64 107.22 L213.19 108.72 L214.73 110.23 L216.27 111.74 L217.81 113.25 L219.36 114.76 L220.90 116.28 L222.44 117.79 L223.99 119.31 L225.53 120.83 L227.07 122.35 L228.62 123.87 L230.16 125.39 L231.70 126.91 L233.25 128.43 L234.79 129.96 L236.33 131.48 L237.87 133.01 L239.42 134.53 L240.96 136.06 L242.50 137.58 L244.05 139.11 L245.59 140.64 L247.13 142.16 L248.68 143.69 L250.22 145.22 L251.76 146.75 L253.30 148.27 L254.85 149.80 L256.39 151.33 L257.93 152.86 L259.48 154.38 L261.02 155.91 L262.56 157.43 L264.10 158.96 L265.65 160.49 L267.19 162.01 L268.73 163.54 L270.28 165.06 L271.82 166.58 L273.36 168.11 L274.91 169.63 L276.45 171.15 L277.99 172.67 L279.53 174.20 L281.08 175.72 L282.62 177.24 L284.16 178.76 L285.71 180.27 L287.25 181.79 L288.79 183.31 L290.34 184.82 L291.88 186.34 L293.42 187.85 L294.96 189.37 L296.51 190.88 L298.05 192.39 L299.59 193.90 L301.14 195.41 L302.68 196.92 L304.22 198.43 L305.77 199.94 L307.31 201.45 L308.85 202.95 L310.39 204.46 L311.94 205.96 L313.48 207.46 L315.02 208.96 L316.57 210.46 L318.11 211.96 L319.65 213.46 L321.20 214.96 L322.74 216.45 L324.28 217.95 L325.82 219.44 L327.37 220.93 L328.91 222.42 L330.45 223.91 L332.00 225.40 L333.54 226.89 L335.08 228.37 L336.63 229.86 L338.17 231.34 L339.71 232.82 L341.25 234.30 L342.80 235.78 L344.34 237.26 L345.88 238.74 L347.43 240.21 L348.97 241.69 L350.51 243.16 L352.06 244.63 L353.60 246.10 L355.14 247.57 L356.69 249.03 L358.23 250.50 L359.77 251.96 L361.31 253.42 L362.86 254.88 L364.40 256.34 L364.40 277.21 L362.86 275.48 L361.31 273.74 L359.77 272.01 L358.23 270.28 L356.69 268.55 L355.14 266.83 L353.60 265.10 L352.06 263.38 L350.51 261.66 L348.97 259.94 L347.43 258.23 L345.88 256.51 L344.34 254.80 L342.80 253.09 L341.25 251.38 L339.71 249.67 L338.17 247.97 L336.63 246.26 L335.08 244.56 L333.54 242.86 L332.00 241.16 L330.45 239.46 L328.91 237.77 L327.37 236.07 L325.82 234.38 L324.28 232.69 L322.74 231.00 L321.20 229.31 L319.65 227.62 L318.11 225.94 L316.57 224.25 L315.02 222.57 L313.48 220.89 L311.94 219.21 L310.39 217.53 L308.85 215.85 L307.31 214.18 L305.77 212.50 L304.22 210.83 L302.68 209.16 L301.14 207.48 L299.59 205.82 L298.05 204.15 L296.51 202.48 L294.96 200.81 L293.42 199.15 L291.88 197.49 L290.34 195.82 L288.79 194.16 L287.25 192.50 L285.71 190.84 L284.16 189.19 L282.62 187.53 L281.08 185.88 L279.53 184.22 L277.99 182.57 L276.45 180.92 L274.91 179.27 L273.36 177.62 L271.82 175.97 L270.28 174.32 L268.73 172.68 L267.19 171.03 L265.65 169.39 L264.10 167.75 L262.56 166.11 L261.02 164.47 L259.48 162.83 L257.93 161.20 L256.39 159.56 L254.85 157.93 L253.30 156.29 L251.76 154.66 L250.22 153.03 L248.68 151.40 L247.13 149.78 L245.59 148.15 L244.05 146.53 L242.50 144.91 L240.96 143.29 L239.42 141.67 L237.87 140.05 L236.33 138.44 L234.79 136.82 L233.25 135.21 L231.70 133.60 L230.16 131.99 L228.62 130.39 L227.07 128.79 L225.53 127.19 L223.99 125.59 L222.44 123.99 L220.90 122.40 L219.36 120.81 L217.81 119.22 L216.27 117.63 L214.73 116.05 L213.19 114.47 L211.64 112.90 L210.10 111.33 L208.56 109.76 L207.01 108.19 L205.47 106.63 L203.93 105.07 L202.38 103.52 L200.84 101.97 L199.30 100.43 L197.76 98.89 L196.21 97.36 L194.67 95.83 L193.13 94.31 L191.58 92.79 L190.04 91.28 L188.50 89.78 L186.95 88.28 L185.41 86.79 L183.87 85.31 L182.33 83.83 L180.78 82.37 L179.24 80.91 L177.70 79.46 L176.15 78.02 L174.61 76.59 L173.07 75.16 L171.52 73.75 L169.98 72.35 L168.44 70.96 L166.90 69.59 L165.35 68.22 L163.81 66.87 L162.27 65.53 L160.72 64.20 L159.18 62.89 L157.64 61.59 L156.09 60.31 L154.55 59.04 L153.01 57.79 L151.47 56.56 L149.92 55.34 L148.38 54.14 L146.84 52.96 L145.29 51.79 L143.75 50.65 L142.21 49.52 L140.66 48.41 L139.12 47.33 L137.58 46.26 L136.04 45.22 L134.49 44.19 L132.95 43.19 L131.41 42.21 L129.86 41.26 L128.32 40.32 L126.78 39.41 L125.23 38.52 L123.69 37.65 L122.15 36.81 L120.61 35.99 L119.06 35.19 L117.52 34.41 L115.98 33.66 L114.43 32.93 L112.89 32.22 L111.35 31.54 L109.80 30.88 L108.26 30.24 L106.72 29.62 L105.18 29.03 L103.63 28.45 L102.09 27.90 L100.55 27.37 L99.00 26.85 L97.46 26.36 L95.92 25.89 L94.38 25.43 L92.83 24.99 L91.29 24.57 L89.75 24.17 L88.20 23.79 L86.66 23.42 L85.12 23.07 L83.57 22.73 L82.03 22.41 L80.49 22.10 L78.94 21.81 L77.40 21.53 L75.86 21.27 L74.32 21.01 L72.77 20.77 L71.23 20.54 L69.69 20.32 L68.14 20.11 L66.60 19.91 L65.06 19.72 L63.52 19.54 L61.97 19.37 L60.43 19.21 L58.89 19.05 L57.34 18.91 L55.80 18.77Z" fill="#2ca02c" fill-opacity="0.165" stroke="none"/><path d="M55.80 20.61 L57.34 20.91 L58.89 21.23 L60.43 21.57 L61.97 21.92 L63.52 22.28 L65.06 22.67 L66.60 23.07 L68.14 23.49 L69.69 23.92 L71.23 24.38 L72.77 24.86 L74.32 25.35 L75.86 25.87 L77.40 26.40 L78.94 26.96 L80.49 27.54 L82.03 28.14 L83.57 28.76 L85.12 29.41 L86.66 30.07 L88.20 30.76 L89.75 31.48 L91.29 32.21 L92.83 32.97 L94.38 33.75 L95.92 34.56 L97.46 35.39 L99.00 36.24 L100.55 37.11 L102.09 38.01 L103.63 38.93 L105.18 39.87 L106.72 40.84 L108.26 41.83 L109.80 42.83 L111.35 43.86 L112.89 44.91 L114.43 45.98 L115.98 47.07 L117.52 48.19 L119.06 49.31 L120.61 50.46 L122.15 51.63 L123.69 52.81 L125.23 54.01 L126.78 55.23 L128.32 56.46 L129.86 57.71 L131.41 58.98 L132.95 60.26 L134.49 61.55 L136.04 62.85 L137.58 64.17 L139.12 65.50 L140.66 66.85 L142.21 68.20 L143.75 69.57 L145.29 70.94 L146.84 72.33 L148.38 73.73 L149.92 75.13 L151.47 76.54 L153.01 77.97 L154.55 79.40 L156.09 80.84 L157.64 82.28 L159.18 83.73 L160.72 85.19 L162.27 86.66 L163.81 88.13 L165.35 89.60 L166.90 91.09 L168.44 92.57 L169.98 94.06 L171.52 95.56 L173.07 97.06 L174.61 98.57 L176.15 100.08 L177.70 101.59 L179.24 103.10 L180.78 104.62 L182.33 106.15 L183.87 107.67 L185.41 109.20 L186.95 110.73 L188.50 112.26 L190.04 113.80 L191.58 115.34 L193.13 116.88 L194.67 118.42 L196.21 119.97 L197.76 121.51 L199.30 123.06 L200.84 124.61 L202.38 126.16 L203.93 127.71 L205.47 129.27 L207.01 130.82 L208.56 132.38 L210.10 133.93 L211.64 135.49 L213.19 137.05 L214.73 138.61 L216.27 140.17 L217.81 141.74 L219.36 143.30 L220.90 144.86 L222.44 146.43 L223.99 147.99 L225.53 149.56 L227.07 151.13 L228.62 152.69 L230.16 154.26 L231.70 155.83 L233.25 157.40 L234.79 158.97 L236.33 160.54 L237.87 162.11 L239.42 163.68 L240.96 165.25 L242.50 166.82 L244.05 168.39 L245.59 169.96 L247.13 171.53 L248.68 173.10 L250.22 174.68 L251.76 176.25 L253.30 177.82 L254.85 179.39 L256.39 180.97 L257.93 182.54 L259.48 184.12 L261.02 185.69 L262.56 187.26 L264.10 188.84 L265.65 190.41 L267.19 191.99 L268.73 193.56 L270.28 195.13 L271.82 196.71 L273.36 198.28 L274.91 199.86 L276.45 201.43 L277.99 203.01 L279.53 204.58 L281.08 206.16 L282.62 207.73 L284.16 209.31 L285.71 210.89 L287.25 212.46 L288.79 214.04 L290.34 215.61 L291.88 217.19 L293.42 218.76 L294.96 220.34 L296.51 221.92 L298.05 223.49 L299.59 225.07 L301.14 226.64 L302.68 228.22 L304.22 229.79 L305.77 231.37 L307.31 232.95 L308.85 234.52 L310.39 236.10 L311.94 237.68 L313.48 239.25 L315.02 240.83 L316.57 242.40 L318.11 243.98 L319.65 245.56 L321.20 247.13 L322.74 248.71 L324.28 250.29 L325.82 251.86 L327.37 253.44 L328.91 255.01 L330.45 256.59 L332.00 258.17 L333.54 259.74 L335.08 261.32 L336.63 262.90 L338.17 264.47 L339.71 266.05 L341.25 267.63 L342.80 269.20 L344.34 270.78 L345.88 272.35 L347.43 273.93 L348.97 275.51 L350.51 277.08 L352.06 278.66 L353.60 280.24 L355.14 281.81 L356.69 283.39 L358.23 284.97 L359.77 286.54 L361.31 288.12 L362.86 289.70 L364.40 291.27" fill="none" stroke="#1f77b4" stroke-width="1.5"/><path d="M55.80 17.13 L57.34 17.25 L58.89 17.38 L60.43 17.51 L61.97 17.65 L63.52 17.80 L65.06 17.95 L66.60 18.11 L68.14 18.29 L69.69 18.47 L71.23 18.66 L72.77 18.86 L74.32 19.07 L75.86 19.29 L77.40 19.52 L78.94 19.76 L80.49 20.02 L82.03 20.28 L83.57 20.56 L85.12 20.86 L86.66 21.16 L88.20 21.49 L89.75 21.82 L91.29 22.17 L92.83 22.54 L94.38 22.92 L95.92 23.33 L97.46 23.74 L99.00 24.18 L100.55 24.63 L102.09 25.11 L103.63 25.60 L105.18 26.11 L106.72 26.64 L108.26 27.19 L109.80 27.76 L111.35 28.35 L112.89 28.97 L114.43 29.60 L115.98 30.26 L117.52 30.94 L119.06 31.64 L120.61 32.37 L122.15 33.11 L123.69 33.88 L125.23 34.67 L126.78 35.49 L128.32 36.33 L129.86 37.18 L131.41 38.07 L132.95 38.97 L134.49 39.90 L136.04 40.84 L137.58 41.81 L139.12 42.80 L140.66 43.82 L142.21 44.85 L143.75 45.90 L145.29 46.98 L146.84 48.07 L148.38 49.18 L149.92 50.31 L151.47 51.46 L153.01 52.63 L154.55 53.81 L156.09 55.02 L157.64 56.23 L159.18 57.47 L160.72 58.72 L162.27 59.98 L163.81 61.26 L165.35 62.55 L166.90 63.86 L168.44 65.18 L169.98 66.51 L171.52 67.86 L173.07 69.21 L174.61 70.58 L176.15 71.96 L177.70 73.35 L179.24 74.74 L180.78 76.15 L182.33 77.57 L183.87 78.99 L185.41 80.43 L186.95 81.87 L188.50 83.32 L190.04 84.77 L191.58 86.24 L193.13 87.70 L194.67 89.18 L196.21 90.66 L197.76 92.15 L199.30 93.64 L200.84 95.14 L202.38 96.64 L203.93 98.15 L205.47 99.66 L207.01 101.18 L208.56 102.70 L210.10 104.22 L211.64 105.75 L213.19 107.28 L214.73 108.81 L216.27 110.35 L217.81 111.89 L219.36 113.43 L220.90 114.98 L222.44 116.53 L223.99 118.08 L225.53 119.63 L227.07 121.18 L228.62 122.74 L230.16 124.30 L231.70 125.86 L233.25 127.42 L234.79 128.98 L236.33 130.55 L237.87 132.11 L239.42 133.68 L240.96 135.25 L242.50 136.82 L244.05 138.39 L245.59 139.96 L247.13 141.54 L248.68 143.11 L250.22 144.69 L251.76 146.26 L253.30 147.84 L254.85 149.42 L256.39 151.00 L257.93 152.58 L259.48 154.16 L261.02 155.74 L262.56 157.32 L264.10 158.90 L265.65 160.48 L267.19 162.07 L268.73 163.65 L270.28 165.23 L271.82 166.82 L273.36 168.40 L274.91 169.99 L276.45 171.57 L277.99 173.16 L279.53 174.74 L281.08 176.33 L282.62 177.92 L284.16 179.50 L285.71 181.09 L287.25 182.68 L288.79 184.26 L290.34 185.85 L291.88 187.44 L293.42 189.03 L294.96 190.62 L296.51 192.20 L298.05 193.79 L299.59 195.38 L301.14 196.97 L302.68 198.56 L304.22 200.15 L305.77 201.74 L307.31 203.33 L308.85 204.92 L310.39 206.51 L311.94 208.10 L313.48 209.69 L315.02 211.28 L316.57 212.87 L318.11 214.46 L319.65 216.05 L321.20 217.64 L322.74 219.23 L324.28 220.82 L325.82 222.41 L327.37 224.00 L328.91 225.59 L330.45 227.18 L332.00 228.77 L333.54 230.36 L335.08 231.95 L336.63 233.54 L338.17 235.13 L339.71 236.72 L341.25 238.31 L342.80 239.91 L344.34 241.50 L345.88 243.09 L347.43 244.68 L348.97 246.27 L350.51 247.86 L352.06 249.45 L353.60 251.04 L355.14 252.63 L356.69 254.22 L358.23 255.82 L359.77 257.41 L361.31 259.00 L362.86 260.59 L364.40 262.18" fill="none" stroke="#1f77b4" stroke-width="1.5" stroke-dasharray="4.93 2.13"/><path d="M55.80 18.62 L57.34 18.82 L58.89 19.02 L60.43 19.24 L61.97 19.47 L63.52 19.71 L65.06 19.96 L66.60 20.22 L68.14 20.50 L69.69 20.79 L71.23 21.09 L72.77 21.41 L74.32 21.74 L75.86 22.09 L77.40 22.45 L78.94 22.83 L80.49 23.22 L82.03 23.63 L83.57 24.06 L85.12 24.51 L86.66 24.98 L88.20 25.46 L89.75 25.97 L91.29 26.49 L92.83 27.03 L94.38 27.60 L95.92 28.18 L97.46 28.79 L99.00 29.41 L100.55 30.06 L102.09 30.73 L103.63 31.42 L105.18 32.14 L106.72 32.87 L108.26 33.63 L109.80 34.41 L111.35 35.22 L112.89 36.04 L114.43 36.89 L115.98 37.76 L117.52 38.66 L119.06 39.57 L120.61 40.51 L122.15 41.46 L123.69 42.44 L125.23 43.44 L126.78 44.46 L128.32 45.51 L129.86 46.57 L131.41 47.65 L132.95 48.75 L134.49 49.87 L136.04 51.00 L137.58 52.16 L139.12 53.33 L140.66 54.52 L142.21 55.73 L143.75 56.95 L145.29 58.19 L146.84 59.44 L148.38 60.70 L149.92 61.99 L151.47 63.28 L153.01 64.59 L154.55 65.91 L156.09 67.24 L157.64 68.59 L159.18 69.94 L160.72 71.31 L162.27 72.68 L163.81 74.07 L165.35 75.47 L166.90 76.87 L168.44 78.29 L169.98 79.71 L171.52 81.14 L173.07 82.58 L174.61 84.02 L176.15 85.47 L177.70 86.93 L179.24 88.40 L180.78 89.87 L182.33 91.34 L183.87 92.83 L185.41 94.31 L186.95 95.81 L188.50 97.30 L190.04 98.80 L191.58 100.31 L193.13 101.82 L194.67 103.33 L196.21 104.85 L197.76 106.37 L199.30 107.90 L200.84 109.42 L202.38 110.95 L203.93 112.49 L205.47 114.02 L207.01 115.56 L208.56 117.10 L210.10 118.64 L211.64 120.19 L213.19 121.74 L214.73 123.28 L216.27 124.83 L217.81 126.39 L219.36 127.94 L220.90 129.50 L222.44 131.05 L223.99 132.61 L225.53 134.17 L227.07 135.73 L228.62 137.29 L230.16 138.86 L231.70 140.42 L233.25 141.99 L234.79 143.55 L236.33 145.12 L237.87 146.69 L239.42 148.26 L240.96 149.83 L242.50 151.40 L244.05 152.97 L245.59 154.54 L247.13 156.11 L248.68 157.69 L250.22 159.26 L251.76 160.83 L253.30 162.41 L254.85 163.98 L256.39 165.56 L257.93 167.13 L259.48 168.71 L261.02 170.28 L262.56 171.86 L264.10 173.44 L265.65 175.02 L267.19 176.59 L268.73 178.17 L270.28 179.75 L271.82 181.33 L273.36 182.91 L274.91 184.49 L276.45 186.06 L277.99 187.64 L279.53 189.22 L281.08 190.80 L282.62 192.38 L284.16 193.96 L285.71 195.54 L287.25 197.12 L288.79 198.70 L290.34 200.28 L291.88 201.86 L293.42 203.45 L294.96 205.03 L296.51 206.61 L298.05 208.19 L299.59 209.77 L301.14 211.35 L302.68 212.93 L304.22 214.51 L305.77 216.09 L307.31 217.68 L308.85 219.26 L310.39 220.84 L311.94 222.42 L313.48 224.00 L315.02 225.58 L316.57 227.17 L318.11 228.75 L319.65 230.33 L321.20 231.91 L322.74 233.49 L324.28 235.08 L325.82 236.66 L327.37 238.24 L328.91 239.82 L330.45 241.40 L332.00 242.99 L333.54 244.57 L335.08 246.15 L336.63 247.73 L338.17 249.32 L339.71 250.90 L341.25 252.48 L342.80 254.06 L344.34 255.65 L345.88 257.23 L347.43 258.81 L348.97 260.39 L350.51 261.97 L352.06 263.56 L353.60 265.14 L355.14 266.72 L356.69 268.30 L358.23 269.89 L359.77 271.47 L361.31 273.05 L362.86 274.63 L364.40 276.22" fill="none" stroke="#ff7f0e" stroke-width="1.5"/><path d="M55.80 16.13 L57.34 16.19 L58.89 16.26 L60.43 16.32 L61.97 16.39 L63.52 16.47 L65.06 16.55 L66.60 16.63 L68.14 16.71 L69.69 16.81 L71.23 16.90 L72.77 17.00 L74.32 17.11 L75.86 17.22 L77.40 17.34 L78.94 17.46 L80.49 17.59 L82.03 17.72 L83.57 17.86 L85.12 18.01 L86.66 18.17 L88.20 18.33 L89.75 18.50 L91.29 18.68 L92.83 18.87 L94.38 19.07 L95.92 19.28 L97.46 19.50 L99.00 19.72 L100.55 19.96 L102.09 20.21 L103.63 20.47 L105.18 20.74 L106.72 21.03 L108.26 21.32 L109.80 21.63 L111.35 21.96 L112.89 22.29 L114.43 22.65 L115.98 23.01 L117.52 23.39 L119.06 23.79 L120.61 24.20 L122.15 24.63 L123.69 25.08 L125.23 25.54 L126.78 26.03 L128.32 26.53 L129.86 27.04 L131.41 27.58 L132.95 28.14 L134.49 28.71 L136.04 29.31 L137.58 29.92 L139.12 30.56 L140.66 31.21 L142.21 31.89 L143.75 32.58 L145.29 33.30 L146.84 34.04 L148.38 34.80 L149.92 35.58 L151.47 36.38 L153.01 37.21 L154.55 38.05 L156.09 38.91 L157.64 39.80 L159.18 40.71 L160.72 41.63 L162.27 42.58 L163.81 43.55 L165.35 44.54 L166.90 45.54 L168.44 46.57 L169.98 47.62 L171.52 48.68 L173.07 49.76 L174.61 50.86 L176.15 51.98 L177.70 53.12 L179.24 54.27 L180.78 55.44 L182.33 56.63 L183.87 57.83 L185.41 59.05 L186.95 60.28 L188.50 61.53 L190.04 62.79 L191.58 64.06 L193.13 65.35 L194.67 66.65 L196.21 67.96 L197.76 69.28 L199.30 70.62 L200.84 71.96 L202.38 73.32 L203.93 74.69 L205.47 76.07 L207.01 77.45 L208.56 78.85 L210.10 80.25 L211.64 81.66 L213.19 83.09 L214.73 84.51 L216.27 85.95 L217.81 87.39 L219.36 88.84 L220.90 90.30 L222.44 91.76 L223.99 93.23 L225.53 94.70 L227.07 96.18 L228.62 97.67 L230.16 99.16 L231.70 100.65 L233.25 102.15 L234.79 103.65 L236.33 105.16 L237.87 106.67 L239.42 108.19 L240.96 109.71 L242.50 111.23 L244.05 112.75 L245.59 114.28 L247.13 115.81 L248.68 117.34 L250.22 118.88 L251.76 120.42 L253.30 121.96 L254.85 123.50 L256.39 125.05 L257.93 126.60 L259.48 128.15 L261.02 129.70 L262.56 131.25 L264.10 132.81 L265.65 134.36 L267.19 135.92 L268.73 137.48 L270.28 139.04 L271.82 140.60 L273.36 142.17 L274.91 143.73 L276.45 145.30 L277.99 146.86 L279.53 148.43 L281.08 150.00 L282.62 151.57 L284.16 153.14 L285.71 154.71 L287.25 156.28 L288.79 157.86 L290.34 159.43 L291.88 161.00 L293.42 162.58 L294.96 164.15 L296.51 165.73 L298.05 167.30 L299.59 168.88 L301.14 170.46 L302.68 172.04 L304.22 173.61 L305.77 175.19 L307.31 176.77 L308.85 178.35 L310.39 179.93 L311.94 181.51 L313.48 183.09 L315.02 184.67 L316.57 186.25 L318.11 187.83 L319.65 189.42 L321.20 191.00 L322.74 192.58 L324.28 194.16 L325.82 195.74 L327.37 197.33 L328.91 198.91 L330.45 200.49 L332.00 202.07 L333.54 203.66 L335.08 205.24 L336.63 206.83 L338.17 208.41 L339.71 209.99 L341.25 211.58 L342.80 213.16 L344.34 214.74 L345.88 216.33 L347.43 217.91 L348.97 219.50 L350.51 221.08 L352.06 222.67 L353.60 224.25 L355.14 225.84 L356.69 227.42 L358.23 229.01 L359.77 230.59 L361.31 232.18 L362.86 233.76 L364.40 235.35" fill="none" stroke="#ff7f0e" stroke-width="1.5" stroke-dasharray="4.93 2.13"/><path d="M55.80 19.38 L57.34 19.62 L58.89 19.87 L60.43 20.14 L61.97 20.41 L63.52 20.70 L65.06 21.01 L66.60 21.33 L68.14 21.66 L69.69 22.01 L71.23 22.37 L72.77 22.75 L74.32 23.15 L75.86 23.56 L77.40 24.00 L78.94 24.45 L80.49 24.92 L82.03 25.41 L83.57 25.92 L85.12 26.45 L86.66 26.99 L88.20 27.56 L89.75 28.16 L91.29 28.77 L92.83 29.40 L94.38 30.06 L95.92 30.74 L97.46 31.44 L99.00 32.16 L100.55 32.91 L102.09 33.68 L103.63 34.47 L105.18 35.28 L106.72 36.12 L108.26 36.97 L109.80 37.86 L111.35 38.76 L112.89 39.69 L114.43 40.63 L115.98 41.60 L117.52 42.59 L119.06 43.60 L120.61 44.64 L122.15 45.69 L123.69 46.76 L125.23 47.85 L126.78 48.96 L128.32 50.09 L129.86 51.24 L131.41 52.40 L132.95 53.59 L134.49 54.78 L136.04 56.00 L137.58 57.23 L139.12 58.48 L140.66 59.74 L142.21 61.01 L143.75 62.30 L145.29 63.60 L146.84 64.92 L148.38 66.24 L149.92 67.58 L151.47 68.93 L153.01 70.29 L154.55 71.66 L156.09 73.04 L157.64 74.43 L159.18 75.83 L160.72 77.24 L162.27 78.66 L163.81 80.08 L165.35 81.51 L166.90 82.95 L168.44 84.40 L169.98 85.85 L171.52 87.31 L173.07 88.77 L174.61 90.24 L176.15 91.72 L177.70 93.20 L179.24 94.69 L180.78 96.18 L182.33 97.67 L183.87 99.17 L185.41 100.67 L186.95 102.18 L188.50 103.69 L190.04 105.20 L191.58 106.72 L193.13 108.24 L194.67 109.76 L196.21 111.29 L197.76 112.82 L199.30 114.35 L200.84 115.88 L202.38 117.41 L203.93 118.95 L205.47 120.49 L207.01 122.03 L208.56 123.57 L210.10 125.12 L211.64 126.66 L213.19 128.21 L214.73 129.76 L216.27 131.31 L217.81 132.86 L219.36 134.41 L220.90 135.97 L222.44 137.52 L223.99 139.08 L225.53 140.64 L227.07 142.19 L228.62 143.75 L230.16 145.31 L231.70 146.87 L233.25 148.43 L234.79 149.99 L236.33 151.56 L237.87 153.12 L239.42 154.68 L240.96 156.24 L242.50 157.81 L244.05 159.37 L245.59 160.94 L247.13 162.50 L248.68 164.07 L250.22 165.64 L251.76 167.20 L253.30 168.77 L254.85 170.34 L256.39 171.91 L257.93 173.47 L259.48 175.04 L261.02 176.61 L262.56 178.18 L264.10 179.75 L265.65 181.32 L267.19 182.89 L268.73 184.46 L270.28 186.03 L271.82 187.60 L273.36 189.17 L274.91 190.74 L276.45 192.31 L277.99 193.88 L279.53 195.45 L281.08 197.02 L282.62 198.59 L284.16 200.16 L285.71 201.73 L287.25 203.30 L288.79 204.88 L290.34 206.45 L291.88 208.02 L293.42 209.59 L294.96 211.16 L296.51 212.73 L298.05 214.31 L299.59 215.88 L301.14 217.45 L302.68 219.02 L304.22 220.59 L305.77 222.17 L307.31 223.74 L308.85 225.31 L310.39 226.88 L311.94 228.45 L313.48 230.03 L315.02 231.60 L316.57 233.17 L318.11 234.74 L319.65 236.32 L321.20 237.89 L322.74 239.46 L324.28 241.03 L325.82 242.61 L327.37 244.18 L328.91 245.75 L330.45 247.32 L332.00 248.90 L333.54 250.47 L335.08 252.04 L336.63 253.61 L338.17 255.19 L339.71 256.76 L341.25 258.33 L342.80 259.90 L344.34 261.48 L345.88 263.05 L347.43 264.62 L348.97 266.20 L350.51 267.77 L352.06 269.34 L353.60 270.91 L355.14 272.49 L356.69 274.06 L358.23 275.63 L359.77 277.20 L361.31 278.78 L362.86 280.35 L364.40 281.92" fill="none" stroke="#2ca02c" stroke-width="1.5"/><path d="M55.80 17.46 L57.34 17.59 L58.89 17.74 L60.43 17.89 L61.97 18.05 L63.52 18.22 L65.06 18.40 L66.60 18.59 L68.14 18.78 L69.69 18.99 L71.23 19.21 L72.77 19.44 L74.32 19.68 L75.86 19.93 L77.40 20.19 L78.94 20.47 L80.49 20.76 L82.03 21.06 L83.57 21.38 L85.12 21.72 L86.66 22.06 L88.20 22.43 L89.75 22.81 L91.29 23.21 L92.83 23.62 L94.38 24.05 L95.92 24.50 L97.46 24.97 L99.00 25.46 L100.55 25.97 L102.09 26.49 L103.63 27.04 L105.18 27.61 L106.72 28.20 L108.26 28.81 L109.80 29.44 L111.35 30.10 L112.89 30.78 L114.43 31.47 L115.98 32.20 L117.52 32.94 L119.06 33.71 L120.61 34.50 L122.15 35.31 L123.69 36.14 L125.23 37.00 L126.78 37.88 L128.32 38.78 L129.86 39.71 L131.41 40.65 L132.95 41.62 L134.49 42.61 L136.04 43.62 L137.58 44.65 L139.12 45.70 L140.66 46.78 L142.21 47.87 L143.75 48.98 L145.29 50.11 L146.84 51.26 L148.38 52.43 L149.92 53.61 L151.47 54.81 L153.01 56.03 L154.55 57.27 L156.09 58.52 L157.64 59.78 L159.18 61.06 L160.72 62.35 L162.27 63.66 L163.81 64.98 L165.35 66.31 L166.90 67.66 L168.44 69.02 L169.98 70.38 L171.52 71.76 L173.07 73.15 L174.61 74.55 L176.15 75.96 L177.70 77.37 L179.24 78.80 L180.78 80.23 L182.33 81.68 L183.87 83.13 L185.41 84.58 L186.95 86.05 L188.50 87.52 L190.04 88.99 L191.58 90.48 L193.13 91.96 L194.67 93.46 L196.21 94.96 L197.76 96.46 L199.30 97.97 L200.84 99.48 L202.38 101.00 L203.93 102.52 L205.47 104.04 L207.01 105.57 L208.56 107.10 L210.10 108.64 L211.64 110.18 L213.19 111.72 L214.73 113.26 L216.27 114.81 L217.81 116.35 L219.36 117.90 L220.90 119.46 L222.44 121.01 L223.99 122.57 L225.53 124.13 L227.07 125.69 L228.62 127.25 L230.16 128.82 L231.70 130.38 L233.25 131.95 L234.79 133.52 L236.33 135.09 L237.87 136.66 L239.42 138.23 L240.96 139.80 L242.50 141.38 L244.05 142.95 L245.59 144.53 L247.13 146.10 L248.68 147.68 L250.22 149.26 L251.76 150.84 L253.30 152.42 L254.85 154.00 L256.39 155.58 L257.93 157.16 L259.48 158.74 L261.02 160.33 L262.56 161.91 L264.10 163.49 L265.65 165.08 L267.19 166.66 L268.73 168.25 L270.28 169.83 L271.82 171.42 L273.36 173.00 L274.91 174.59 L276.45 176.18 L277.99 177.76 L279.53 179.35 L281.08 180.94 L282.62 182.53 L284.16 184.11 L285.71 185.70 L287.25 187.29 L288.79 188.88 L290.34 190.47 L291.88 192.06 L293.42 193.64 L294.96 195.23 L296.51 196.82 L298.05 198.41 L299.59 200.00 L301.14 201.59 L302.68 203.18 L304.22 204.77 L305.77 206.36 L307.31 207.95 L308.85 209.54 L310.39 211.13 L311.94 212.72 L313.48 214.31 L315.02 215.90 L316.57 217.49 L318.11 219.08 L319.65 220.67 L321.20 222.26 L322.74 223.85 L324.28 225.45 L325.82 227.04 L327.37 228.63 L328.91 230.22 L330.45 231.81 L332.00 233.40 L333.54 234.99 L335.08 236.58 L336.63 238.17 L338.17 239.76 L339.71 241.36 L341.25 242.95 L342.80 244.54 L344.34 246.13 L345.88 247.72 L347.43 249.31 L348.97 250.90 L350.51 252.49 L352.06 254.09 L353.60 255.68 L355.14 257.27 L356.69 258.86 L358.23 260.45 L359.77 262.04 L361.31 263.63 L362.86 265.23 L364.40 266.82" fill="none" stroke="#2ca02c" stroke-width="1.5" stroke-dasharray="4.93 2.13"/><path d="M55.94 19.91 L57.48 20.21 L59.03 20.53 L60.58 20.87 L62.13 21.22 L63.68 21.59 L65.24 21.97 L66.79 22.37 L68.34 22.79 L69.89 23.23 L71.44 23.69 L72.99 24.16 L74.54 24.66 L76.09 25.18 L77.65 25.71 L79.20 26.27 L80.75 26.85 L82.30 27.45 L83.85 28.08 L85.41 28.72 L86.96 29.39 L88.51 30.09 L90.06 30.80 L91.62 31.54 L93.17 32.30 L94.72 33.08 L96.27 33.89 L97.82 34.72 L99.38 35.58 L100.93 36.45 L102.48 37.35 L104.03 38.27 L105.58 39.22 L107.13 40.19 L108.68 41.17 L110.23 42.18 L111.79 43.21 L113.34 44.27 L114.89 45.34 L116.44 46.43 L117.99 47.54 L119.54 48.67 L121.09 49.82 L122.64 50.99 L124.19 52.17 L125.74 53.37 L127.28 54.59 L128.83 55.83 L130.38 57.08 L131.93 58.34 L133.48 59.62 L135.03 60.91 L136.58 62.22 L138.13 63.53 L139.68 64.86 L141.22 66.21 L142.77 67.56 L144.32 68.92 L145.87 70.30 L147.42 71.68 L148.97 73.08 L150.52 74.48 L152.06 75.89 L153.61 77.31 L155.16 78.74 L156.71 80.18 L158.26 81.62 L159.81 83.07 L161.35 84.53 L162.90 85.99 L164.45 87.46 L166.00 88.93 L167.55 90.41 L169.10 91.89 L170.65 93.38 L172.19 94.87 L173.74 96.37 L175.29 97.87 L176.84 99.37 L178.39 100.88 L179.94 102.39 L181.49 103.91 L183.04 105.43 L184.59 106.95 L186.14 108.47 L187.69 109.99 L189.24 111.52 L190.79 113.05 L192.34 114.59 L193.89 116.12 L195.44 117.66 L196.99 119.19 L198.54 120.73 L200.09 122.28 L201.64 123.82 L203.19 125.36 L204.74 126.91 L206.29 128.45 L207.84 130.00 L209.39 131.55 L210.94 133.10 L212.50 134.65 L214.05 136.20 L215.60 137.75 L217.15 139.31 L218.70 140.86 L220.26 142.41 L221.81 143.97 L223.36 145.52 L224.92 147.08 L226.47 148.63 L228.02 150.19 L229.58 151.75 L231.13 153.30 L232.69 154.86 L234.24 156.42 L235.80 157.97 L237.35 159.53 L238.91 161.09 L240.46 162.65 L242.02 164.21 L243.57 165.76 L245.13 167.32 L246.69 168.88 L248.25 170.44 L249.80 172.00 L251.36 173.55 L252.92 175.11 L254.48 176.67 L256.04 178.23 L257.60 179.79 L259.15 181.34 L260.71 182.90 L262.27 184.46 L263.84 186.01 L265.40 187.57 L266.96 189.13 L268.52 190.68 L270.08 192.24 L271.64 193.79 L273.21 195.35 L274.77 196.90 L276.34 198.46 L277.90 200.01 L279.46 201.57 L281.03 203.12 L282.60 204.67 L284.16 206.23 L285.73 207.78 L287.30 209.33 L288.86 210.88 L290.43 212.43 L292.00 213.98 L293.57 215.53 L295.14 217.08 L296.71 218.63 L298.28 220.18 L299.86 221.72 L301.43 223.27 L303.00 224.82 L304.58 226.36 L306.15 227.91 L307.73 229.45 L309.30 230.99 L310.88 232.54 L312.46 234.08 L314.04 235.62 L315.62 237.16 L317.20 238.70 L318.78 240.24 L320.36 241.78 L321.94 243.32 L323.52 244.85 L325.11 246.39 L326.69 247.92 L328.28 249.46 L329.87 250.99 L331.45 252.52 L333.04 254.06 L334.63 255.59 L336.22 257.12 L337.82 258.64 L339.41 260.17 L341.00 261.70 L342.60 263.22 L344.20 264.75 L345.80 266.27 L347.39 267.79 L348.99 269.31 L350.60 270.83 L352.20 272.35 L353.80 273.86 L355.41 275.38 L357.02 276.89 L358.62 278.40 L360.23 279.92 L361.85 281.43 L363.46 282.93 L365.07 284.44 L366.69 285.94 L368.31 287.45" fill="none" stroke="#000" stroke-width="1.5" stroke-dasharray="1.4 2.13"/><path d="M55.85 16.42 L57.40 16.54 L58.95 16.67 L60.49 16.80 L62.04 16.94 L63.58 17.08 L65.13 17.24 L66.68 17.40 L68.23 17.57 L69.77 17.75 L71.32 17.94 L72.87 18.14 L74.42 18.35 L75.96 18.56 L77.51 18.80 L79.06 19.04 L80.61 19.29 L82.16 19.56 L83.71 19.84 L85.26 20.13 L86.81 20.44 L88.36 20.76 L89.91 21.09 L91.46 21.44 L93.01 21.81 L94.56 22.19 L96.11 22.59 L97.66 23.01 L99.21 23.45 L100.77 23.90 L102.32 24.37 L103.87 24.87 L105.42 25.38 L106.98 25.91 L108.53 26.46 L110.08 27.03 L111.63 27.63 L113.19 28.24 L114.74 28.88 L116.29 29.54 L117.84 30.22 L119.40 30.92 L120.95 31.64 L122.50 32.39 L124.06 33.16 L125.61 33.95 L127.16 34.77 L128.72 35.61 L130.27 36.47 L131.82 37.35 L133.37 38.26 L134.93 39.18 L136.48 40.13 L138.03 41.10 L139.58 42.10 L141.13 43.11 L142.69 44.14 L144.24 45.20 L145.79 46.27 L147.34 47.36 L148.89 48.47 L150.45 49.61 L152.00 50.76 L153.55 51.92 L155.10 53.11 L156.65 54.31 L158.20 55.52 L159.75 56.76 L161.30 58.01 L162.85 59.27 L164.40 60.55 L165.96 61.84 L167.51 63.14 L169.06 64.46 L170.61 65.79 L172.16 67.13 L173.71 68.49 L175.26 69.85 L176.81 71.23 L178.36 72.61 L179.91 74.01 L181.46 75.41 L183.01 76.82 L184.56 78.24 L186.11 79.67 L187.66 81.11 L189.21 82.56 L190.77 84.01 L192.32 85.46 L193.87 86.93 L195.42 88.40 L196.97 89.88 L198.52 91.36 L200.07 92.84 L201.62 94.34 L203.17 95.83 L204.73 97.33 L206.28 98.84 L207.83 100.35 L209.38 101.86 L210.93 103.38 L212.49 104.90 L214.04 106.42 L215.59 107.95 L217.14 109.47 L218.70 111.01 L220.25 112.54 L221.80 114.08 L223.36 115.62 L224.91 117.16 L226.47 118.70 L228.02 120.24 L229.57 121.79 L231.13 123.34 L232.68 124.89 L234.24 126.44 L235.79 127.99 L237.35 129.54 L238.91 131.10 L240.46 132.65 L242.02 134.21 L243.57 135.77 L245.13 137.33 L246.69 138.89 L248.25 140.45 L249.80 142.01 L251.36 143.57 L252.92 145.13 L254.48 146.69 L256.04 148.26 L257.60 149.82 L259.16 151.38 L260.72 152.95 L262.28 154.51 L263.84 156.07 L265.40 157.64 L266.96 159.20 L268.52 160.77 L270.08 162.33 L271.65 163.90 L273.21 165.46 L274.77 167.03 L276.34 168.59 L277.90 170.16 L279.47 171.72 L281.03 173.29 L282.60 174.85 L284.17 176.41 L285.73 177.98 L287.30 179.54 L288.87 181.10 L290.44 182.67 L292.01 184.23 L293.58 185.79 L295.15 187.35 L296.72 188.91 L298.29 190.47 L299.86 192.04 L301.43 193.59 L303.01 195.15 L304.58 196.71 L306.16 198.27 L307.73 199.83 L309.31 201.39 L310.89 202.94 L312.46 204.50 L314.04 206.05 L315.62 207.61 L317.20 209.16 L318.78 210.72 L320.36 212.27 L321.95 213.82 L323.53 215.37 L325.12 216.92 L326.70 218.47 L328.29 220.02 L329.87 221.57 L331.46 223.11 L333.05 224.66 L334.64 226.20 L336.23 227.75 L337.83 229.29 L339.42 230.83 L341.01 232.37 L342.61 233.91 L344.21 235.45 L345.80 236.99 L347.40 238.53 L349.00 240.06 L350.61 241.59 L352.21 243.13 L353.81 244.66 L355.42 246.19 L357.03 247.72 L358.64 249.24 L360.25 250.77 L361.86 252.30 L363.47 253.82 L365.09 255.34 L366.70 256.86 L368.32 258.38" fill="none" stroke="#000" stroke-width="1.5" stroke-dasharray="1.4 2.13"/><path d="M55.89 17.91 L57.44 18.11 L58.98 18.32 L60.53 18.53 L62.08 18.76 L63.63 19.00 L65.18 19.25 L66.73 19.51 L68.27 19.79 L69.82 20.08 L71.37 20.38 L72.92 20.70 L74.47 21.03 L76.02 21.38 L77.57 21.74 L79.12 22.12 L80.67 22.51 L82.22 22.92 L83.78 23.35 L85.33 23.80 L86.88 24.27 L88.43 24.75 L89.98 25.26 L91.53 25.78 L93.09 26.32 L94.64 26.89 L96.19 27.47 L97.74 28.08 L99.29 28.71 L100.85 29.36 L102.40 30.03 L103.95 30.72 L105.50 31.44 L107.06 32.18 L108.61 32.94 L110.16 33.72 L111.71 34.53 L113.27 35.35 L114.82 36.20 L116.37 37.08 L117.92 37.97 L119.47 38.89 L121.02 39.82 L122.58 40.78 L124.13 41.76 L125.68 42.77 L127.23 43.79 L128.78 44.83 L130.33 45.89 L131.88 46.97 L133.43 48.07 L134.98 49.19 L136.54 50.33 L138.09 51.49 L139.64 52.66 L141.19 53.85 L142.74 55.05 L144.29 56.28 L145.84 57.51 L147.39 58.76 L148.94 60.03 L150.49 61.31 L152.04 62.60 L153.59 63.91 L155.13 65.23 L156.68 66.56 L158.23 67.90 L159.78 69.26 L161.33 70.62 L162.88 72.00 L164.43 73.38 L165.98 74.77 L167.53 76.18 L169.08 77.59 L170.63 79.01 L172.18 80.43 L173.73 81.87 L175.28 83.31 L176.83 84.76 L178.38 86.21 L179.93 87.67 L181.48 89.14 L183.03 90.61 L184.58 92.09 L186.13 93.57 L187.68 95.06 L189.23 96.55 L190.78 98.05 L192.33 99.55 L193.88 101.05 L195.43 102.56 L196.98 104.07 L198.53 105.59 L200.08 107.11 L201.63 108.63 L203.18 110.15 L204.73 111.68 L206.29 113.20 L207.84 114.74 L209.39 116.27 L210.94 117.80 L212.49 119.34 L214.04 120.88 L215.60 122.42 L217.15 123.96 L218.70 125.51 L220.25 127.05 L221.81 128.60 L223.36 130.15 L224.91 131.69 L226.47 133.24 L228.02 134.79 L229.58 136.35 L231.13 137.90 L232.69 139.45 L234.24 141.01 L235.80 142.56 L237.35 144.12 L238.91 145.67 L240.46 147.23 L242.02 148.79 L243.57 150.35 L245.13 151.90 L246.69 153.46 L248.25 155.02 L249.80 156.58 L251.36 158.14 L252.92 159.70 L254.48 161.26 L256.04 162.82 L257.60 164.38 L259.16 165.94 L260.72 167.50 L262.28 169.05 L263.84 170.61 L265.40 172.17 L266.96 173.73 L268.52 175.29 L270.08 176.85 L271.65 178.41 L273.21 179.97 L274.77 181.53 L276.34 183.09 L277.90 184.65 L279.47 186.20 L281.03 187.76 L282.60 189.32 L284.16 190.88 L285.73 192.43 L287.30 193.99 L288.87 195.54 L290.44 197.10 L292.00 198.66 L293.57 200.21 L295.14 201.76 L296.72 203.32 L298.29 204.87 L299.86 206.42 L301.43 207.98 L303.01 209.53 L304.58 211.08 L306.15 212.63 L307.73 214.18 L309.31 215.73 L310.88 217.28 L312.46 218.82 L314.04 220.37 L315.62 221.92 L317.20 223.46 L318.78 225.01 L320.36 226.55 L321.94 228.10 L323.53 229.64 L325.11 231.18 L326.70 232.72 L328.28 234.26 L329.87 235.80 L331.46 237.34 L333.05 238.87 L334.64 240.41 L336.23 241.95 L337.82 243.48 L339.42 245.01 L341.01 246.55 L342.61 248.08 L344.20 249.61 L345.80 251.14 L347.40 252.66 L349.00 254.19 L350.60 255.71 L352.21 257.24 L353.81 258.76 L355.42 260.28 L357.02 261.80 L358.63 263.32 L360.24 264.84 L361.85 266.35 L363.47 267.87 L365.08 269.38 L366.70 270.89 L368.31 272.40" fill="none" stroke="#000" stroke-width="1.5" stroke-dasharray="1.4 2.13"/><path d="M55.83 15.46 L57.37 15.52 L58.91 15.58 L60.46 15.65 L62.00 15.72 L63.55 15.79 L65.09 15.87 L66.64 15.95 L68.18 16.04 L69.73 16.13 L71.27 16.23 L72.82 16.33 L74.36 16.43 L75.91 16.54 L77.45 16.66 L79.00 16.78 L80.55 16.91 L82.09 17.04 L83.64 17.18 L85.18 17.33 L86.73 17.49 L88.28 17.65 L89.82 17.82 L91.37 18.00 L92.92 18.19 L94.46 18.39 L96.01 18.60 L97.56 18.81 L99.11 19.04 L100.65 19.28 L102.20 19.53 L103.75 19.79 L105.30 20.06 L106.85 20.34 L108.40 20.64 L109.94 20.95 L111.49 21.27 L113.04 21.61 L114.59 21.96 L116.14 22.33 L117.69 22.71 L119.24 23.11 L120.79 23.53 L122.34 23.96 L123.89 24.40 L125.44 24.87 L126.99 25.35 L128.54 25.85 L130.09 26.37 L131.64 26.91 L133.20 27.47 L134.75 28.04 L136.30 28.64 L137.85 29.26 L139.40 29.89 L140.95 30.55 L142.50 31.23 L144.05 31.93 L145.60 32.65 L147.15 33.39 L148.71 34.15 L150.26 34.93 L151.81 35.73 L153.36 36.56 L154.91 37.40 L156.46 38.27 L158.01 39.16 L159.56 40.07 L161.11 41.00 L162.66 41.95 L164.21 42.92 L165.76 43.91 L167.31 44.91 L168.86 45.94 L170.41 46.99 L171.96 48.06 L173.51 49.14 L175.06 50.24 L176.61 51.36 L178.16 52.50 L179.70 53.66 L181.25 54.83 L182.80 56.01 L184.35 57.22 L185.90 58.43 L187.45 59.67 L189.00 60.91 L190.54 62.17 L192.09 63.45 L193.64 64.73 L195.19 66.03 L196.74 67.35 L198.28 68.67 L199.83 70.00 L201.38 71.35 L202.93 72.71 L204.48 74.07 L206.02 75.45 L207.57 76.83 L209.12 78.23 L210.67 79.63 L212.21 81.04 L213.76 82.46 L215.31 83.89 L216.86 85.32 L218.41 86.76 L219.95 88.21 L221.50 89.66 L223.05 91.12 L224.60 92.59 L226.14 94.06 L227.69 95.54 L229.24 97.02 L230.79 98.51 L232.34 100.00 L233.88 101.49 L235.43 102.99 L236.98 104.50 L238.53 106.01 L240.08 107.52 L241.62 109.03 L243.17 110.55 L244.72 112.07 L246.27 113.59 L247.82 115.12 L249.37 116.65 L250.92 118.18 L252.46 119.72 L254.01 121.25 L255.56 122.79 L257.11 124.33 L258.66 125.87 L260.21 127.42 L261.76 128.96 L263.31 130.51 L264.86 132.06 L266.41 133.61 L267.96 135.16 L269.51 136.71 L271.06 138.27 L272.61 139.82 L274.16 141.38 L275.71 142.94 L277.26 144.50 L278.81 146.06 L280.36 147.62 L281.91 149.18 L283.47 150.74 L285.02 152.30 L286.57 153.86 L288.12 155.43 L289.67 156.99 L291.23 158.56 L292.78 160.12 L294.33 161.69 L295.88 163.25 L297.44 164.82 L298.99 166.38 L300.55 167.95 L302.10 169.52 L303.65 171.08 L305.21 172.65 L306.76 174.22 L308.32 175.79 L309.87 177.35 L311.43 178.92 L312.98 180.49 L314.54 182.06 L316.10 183.63 L317.65 185.19 L319.21 186.76 L320.77 188.33 L322.32 189.90 L323.88 191.46 L325.44 193.03 L327.00 194.60 L328.56 196.17 L330.12 197.73 L331.68 199.30 L333.24 200.87 L334.80 202.43 L336.36 204.00 L337.92 205.57 L339.48 207.13 L341.04 208.70 L342.60 210.26 L344.16 211.83 L345.73 213.39 L347.29 214.96 L348.86 216.52 L350.42 218.09 L351.98 219.65 L353.55 221.21 L355.12 222.77 L356.68 224.34 L358.25 225.90 L359.82 227.46 L361.38 229.02 L362.95 230.58 L364.52 232.14 L366.09 233.70" fill="none" stroke="#000" stroke-width="1.5" stroke-dasharray="1.4 2.13"/><path d="M55.91 18.68 L57.45 18.92 L59.00 19.17 L60.55 19.43 L62.10 19.71 L63.65 20.00 L65.20 20.30 L66.75 20.62 L68.30 20.95 L69.85 21.30 L71.40 21.67 L72.95 22.05 L74.50 22.45 L76.05 22.86 L77.60 23.29 L79.15 23.75 L80.71 24.22 L82.26 24.71 L83.81 25.22 L85.36 25.75 L86.91 26.30 L88.47 26.87 L90.02 27.46 L91.57 28.07 L93.12 28.71 L94.67 29.37 L96.23 30.05 L97.78 30.75 L99.33 31.47 L100.88 32.22 L102.44 32.99 L103.99 33.78 L105.54 34.60 L107.09 35.44 L108.64 36.30 L110.20 37.18 L111.75 38.09 L113.30 39.01 L114.85 39.96 L116.40 40.93 L117.95 41.93 L119.50 42.94 L121.05 43.97 L122.60 45.02 L124.16 46.10 L125.71 47.19 L127.26 48.30 L128.81 49.43 L130.36 50.58 L131.91 51.75 L133.46 52.93 L135.01 54.13 L136.56 55.34 L138.11 56.57 L139.66 57.82 L141.20 59.08 L142.75 60.35 L144.30 61.64 L145.85 62.94 L147.40 64.25 L148.95 65.58 L150.50 66.92 L152.05 68.27 L153.60 69.62 L155.15 70.99 L156.70 72.37 L158.25 73.76 L159.79 75.16 L161.34 76.56 L162.89 77.98 L164.44 79.40 L165.99 80.83 L167.54 82.26 L169.09 83.71 L170.64 85.16 L172.19 86.61 L173.73 88.07 L175.28 89.54 L176.83 91.01 L178.38 92.49 L179.93 93.97 L181.48 95.45 L183.03 96.94 L184.58 98.44 L186.13 99.94 L187.68 101.44 L189.23 102.94 L190.78 104.45 L192.33 105.96 L193.88 107.48 L195.43 108.99 L196.98 110.51 L198.53 112.03 L200.08 113.56 L201.63 115.08 L203.18 116.61 L204.73 118.14 L206.29 119.67 L207.84 121.21 L209.39 122.74 L210.94 124.28 L212.49 125.82 L214.04 127.36 L215.60 128.90 L217.15 130.44 L218.70 131.98 L220.25 133.52 L221.81 135.07 L223.36 136.61 L224.91 138.16 L226.47 139.71 L228.02 141.25 L229.58 142.80 L231.13 144.35 L232.68 145.90 L234.24 147.45 L235.79 149.00 L237.35 150.55 L238.90 152.10 L240.46 153.65 L242.02 155.20 L243.57 156.75 L245.13 158.31 L246.69 159.86 L248.24 161.41 L249.80 162.96 L251.36 164.51 L252.92 166.07 L254.48 167.62 L256.03 169.17 L257.59 170.72 L259.15 172.27 L260.71 173.83 L262.27 175.38 L263.83 176.93 L265.39 178.48 L266.96 180.03 L268.52 181.58 L270.08 183.13 L271.64 184.68 L273.21 186.24 L274.77 187.79 L276.33 189.34 L277.90 190.88 L279.46 192.43 L281.03 193.98 L282.59 195.53 L284.16 197.08 L285.73 198.63 L287.29 200.17 L288.86 201.72 L290.43 203.27 L292.00 204.81 L293.57 206.36 L295.14 207.90 L296.71 209.45 L298.28 210.99 L299.85 212.54 L301.43 214.08 L303.00 215.62 L304.57 217.16 L306.15 218.70 L307.72 220.24 L309.30 221.78 L310.88 223.32 L312.45 224.86 L314.03 226.40 L315.61 227.93 L317.19 229.47 L318.77 231.01 L320.35 232.54 L321.94 234.07 L323.52 235.61 L325.11 237.14 L326.69 238.67 L328.28 240.20 L329.86 241.73 L331.45 243.26 L333.04 244.79 L334.63 246.31 L336.22 247.84 L337.81 249.36 L339.41 250.89 L341.00 252.41 L342.60 253.93 L344.19 255.45 L345.79 256.97 L347.39 258.49 L348.99 260.00 L350.59 261.52 L352.20 263.03 L353.80 264.54 L355.41 266.06 L357.01 267.57 L358.62 269.07 L360.23 270.58 L361.84 272.09 L363.45 273.59 L365.07 275.09 L366.68 276.60 L368.30 278.09" fill="none" stroke="#000" stroke-width="1.5" stroke-dasharray="1.4 2.13"/><path d="M55.86 16.75 L57.41 16.88 L58.95 17.03 L60.50 17.18 L62.05 17.34 L63.60 17.51 L65.14 17.69 L66.69 17.87 L68.24 18.07 L69.79 18.27 L71.33 18.49 L72.88 18.72 L74.43 18.96 L75.98 19.21 L77.53 19.47 L79.08 19.75 L80.63 20.04 L82.18 20.34 L83.73 20.66 L85.28 20.99 L86.83 21.34 L88.38 21.70 L89.93 22.08 L91.48 22.48 L93.03 22.89 L94.58 23.33 L96.13 23.78 L97.69 24.25 L99.24 24.74 L100.79 25.24 L102.34 25.77 L103.89 26.32 L105.45 26.89 L107.00 27.48 L108.55 28.09 L110.11 28.73 L111.66 29.38 L113.21 30.06 L114.76 30.76 L116.32 31.48 L117.87 32.23 L119.42 32.99 L120.97 33.78 L122.53 34.60 L124.08 35.43 L125.63 36.29 L127.19 37.17 L128.74 38.08 L130.29 39.00 L131.84 39.95 L133.39 40.92 L134.95 41.91 L136.50 42.92 L138.05 43.95 L139.60 45.01 L141.15 46.08 L142.70 47.17 L144.26 48.29 L145.81 49.42 L147.36 50.57 L148.91 51.73 L150.46 52.92 L152.01 54.12 L153.56 55.34 L155.11 56.57 L156.66 57.82 L158.21 59.08 L159.76 60.36 L161.31 61.65 L162.87 62.96 L164.42 64.28 L165.97 65.61 L167.52 66.95 L169.07 68.30 L170.62 69.67 L172.17 71.05 L173.72 72.43 L175.27 73.83 L176.82 75.23 L178.37 76.65 L179.92 78.07 L181.47 79.50 L183.02 80.94 L184.57 82.38 L186.12 83.84 L187.67 85.30 L189.22 86.76 L190.77 88.23 L192.32 89.71 L193.87 91.19 L195.42 92.68 L196.97 94.17 L198.53 95.67 L200.08 97.17 L201.63 98.68 L203.18 100.19 L204.73 101.71 L206.28 103.22 L207.83 104.74 L209.39 106.27 L210.94 107.80 L212.49 109.33 L214.04 110.86 L215.60 112.39 L217.15 113.93 L218.70 115.47 L220.25 117.01 L221.81 118.56 L223.36 120.10 L224.91 121.65 L226.47 123.20 L228.02 124.75 L229.58 126.30 L231.13 127.86 L232.69 129.41 L234.24 130.97 L235.80 132.53 L237.35 134.08 L238.91 135.64 L240.46 137.20 L242.02 138.76 L243.58 140.32 L245.13 141.89 L246.69 143.45 L248.25 145.01 L249.80 146.58 L251.36 148.14 L252.92 149.71 L254.48 151.27 L256.04 152.84 L257.60 154.40 L259.16 155.97 L260.72 157.53 L262.28 159.10 L263.84 160.67 L265.40 162.23 L266.96 163.80 L268.52 165.36 L270.09 166.93 L271.65 168.50 L273.21 170.06 L274.78 171.63 L276.34 173.20 L277.90 174.76 L279.47 176.33 L281.04 177.89 L282.60 179.46 L284.17 181.02 L285.74 182.59 L287.30 184.15 L288.87 185.72 L290.44 187.28 L292.01 188.84 L293.58 190.41 L295.15 191.97 L296.72 193.53 L298.29 195.09 L299.86 196.65 L301.44 198.21 L303.01 199.77 L304.58 201.33 L306.16 202.89 L307.74 204.45 L309.31 206.01 L310.89 207.56 L312.47 209.12 L314.05 210.68 L315.62 212.23 L317.20 213.79 L318.79 215.34 L320.37 216.89 L321.95 218.45 L323.53 220.00 L325.12 221.55 L326.70 223.10 L328.29 224.65 L329.88 226.19 L331.47 227.74 L333.06 229.29 L334.65 230.83 L336.24 232.38 L337.83 233.92 L339.42 235.46 L341.02 237.00 L342.61 238.54 L344.21 240.08 L345.81 241.62 L347.41 243.16 L349.01 244.69 L350.61 246.22 L352.21 247.76 L353.82 249.29 L355.42 250.82 L357.03 252.35 L358.64 253.88 L360.25 255.40 L361.86 256.93 L363.48 258.45 L365.09 259.97 L366.71 261.49 L368.32 263.01" fill="none" stroke="#000" stroke-width="1.5" stroke-dasharray="1.4 2.13"/></g><g stroke="#000" fill="none" stroke-linecap="square"><path d="M55.80 9.20V239.65" stroke-width="0.9"/><path d="M364.40 9.20V239.65" stroke-width="0.9"/><path d="M55.80 9.20H364.40" stroke-width="1.0"/><path d="M55.80 239.65H364.40" stroke-width="0.9"/></g><g stroke="#000" stroke-width="1.0"><path d="M55.80 15.00h-3.2"/><path d="M55.80 27.46h-3.2"/><path d="M55.80 41.40h-3.2"/><path d="M55.80 57.19h-3.2"/><path d="M55.80 75.43h-3.2"/><path d="M55.80 97.00h-3.2"/><path d="M55.80 123.40h-3.2"/><path d="M55.80 157.43h-3.2"/><path d="M55.80 205.40h-3.2"/><path d="M55.80 239.65v3.2"/><path d="M185.45 239.65v3.2"/><path d="M315.10 239.65v3.2"/></g><g fill="#000" stroke="#000" stroke-width="0.28"><text x="20.70" y="18.75" font-size="10.7" textLength="28.6" lengthAdjust="spacingAndGlyphs">100%</text><text x="27.10" y="31.21" font-size="10.7" textLength="22.2" lengthAdjust="spacingAndGlyphs">90%</text><text x="27.10" y="45.15" font-size="10.7" textLength="22.2" lengthAdjust="spacingAndGlyphs">80%</text><text x="27.10" y="60.94" font-size="10.7" textLength="22.2" lengthAdjust="spacingAndGlyphs">70%</text><text x="27.10" y="79.18" font-size="10.7" textLength="22.2" lengthAdjust="spacingAndGlyphs">60%</text><text x="27.10" y="100.75" font-size="10.7" textLength="22.2" lengthAdjust="spacingAndGlyphs">50%</text><text x="27.10" y="127.15" font-size="10.7" textLength="22.2" lengthAdjust="spacingAndGlyphs">40%</text><text x="27.10" y="161.18" font-size="10.7" textLength="22.2" lengthAdjust="spacingAndGlyphs">30%</text><text x="27.10" y="209.15" font-size="10.7" textLength="22.2" lengthAdjust="spacingAndGlyphs">20%</text><text x="43.30" y="254.0" font-size="10.7" textLength="12.6" lengthAdjust="spacingAndGlyphs">10</text><text x="56.40" y="250.0" font-size="7.6">−</text><text x="62.30" y="250.0" font-size="7.6">1</text><text x="176.00" y="254.0" font-size="10.7" textLength="12.6" lengthAdjust="spacingAndGlyphs">10</text><text x="189.00" y="250.0" font-size="7.6">0</text><text x="305.90" y="254.0" font-size="10.7" textLength="12.6" lengthAdjust="spacingAndGlyphs">10</text><text x="318.90" y="250.0" font-size="7.6">1</text><text x="210.2" y="268" font-size="10.6" text-anchor="middle" textLength="134.8" lengthAdjust="spacingAndGlyphs">Observation Time [Hours]</text><g transform="translate(13.6 135.4) rotate(-90)" font-style="italic" font-size="10.8"><text x="0" y="0">s</text><text x="5.7" y="2.2" font-size="7.6">k</text><text x="10.3" y="0">(</text><text x="14.4" y="0">t</text><text x="17.9" y="0">)</text></g></g></svg></body></html>
